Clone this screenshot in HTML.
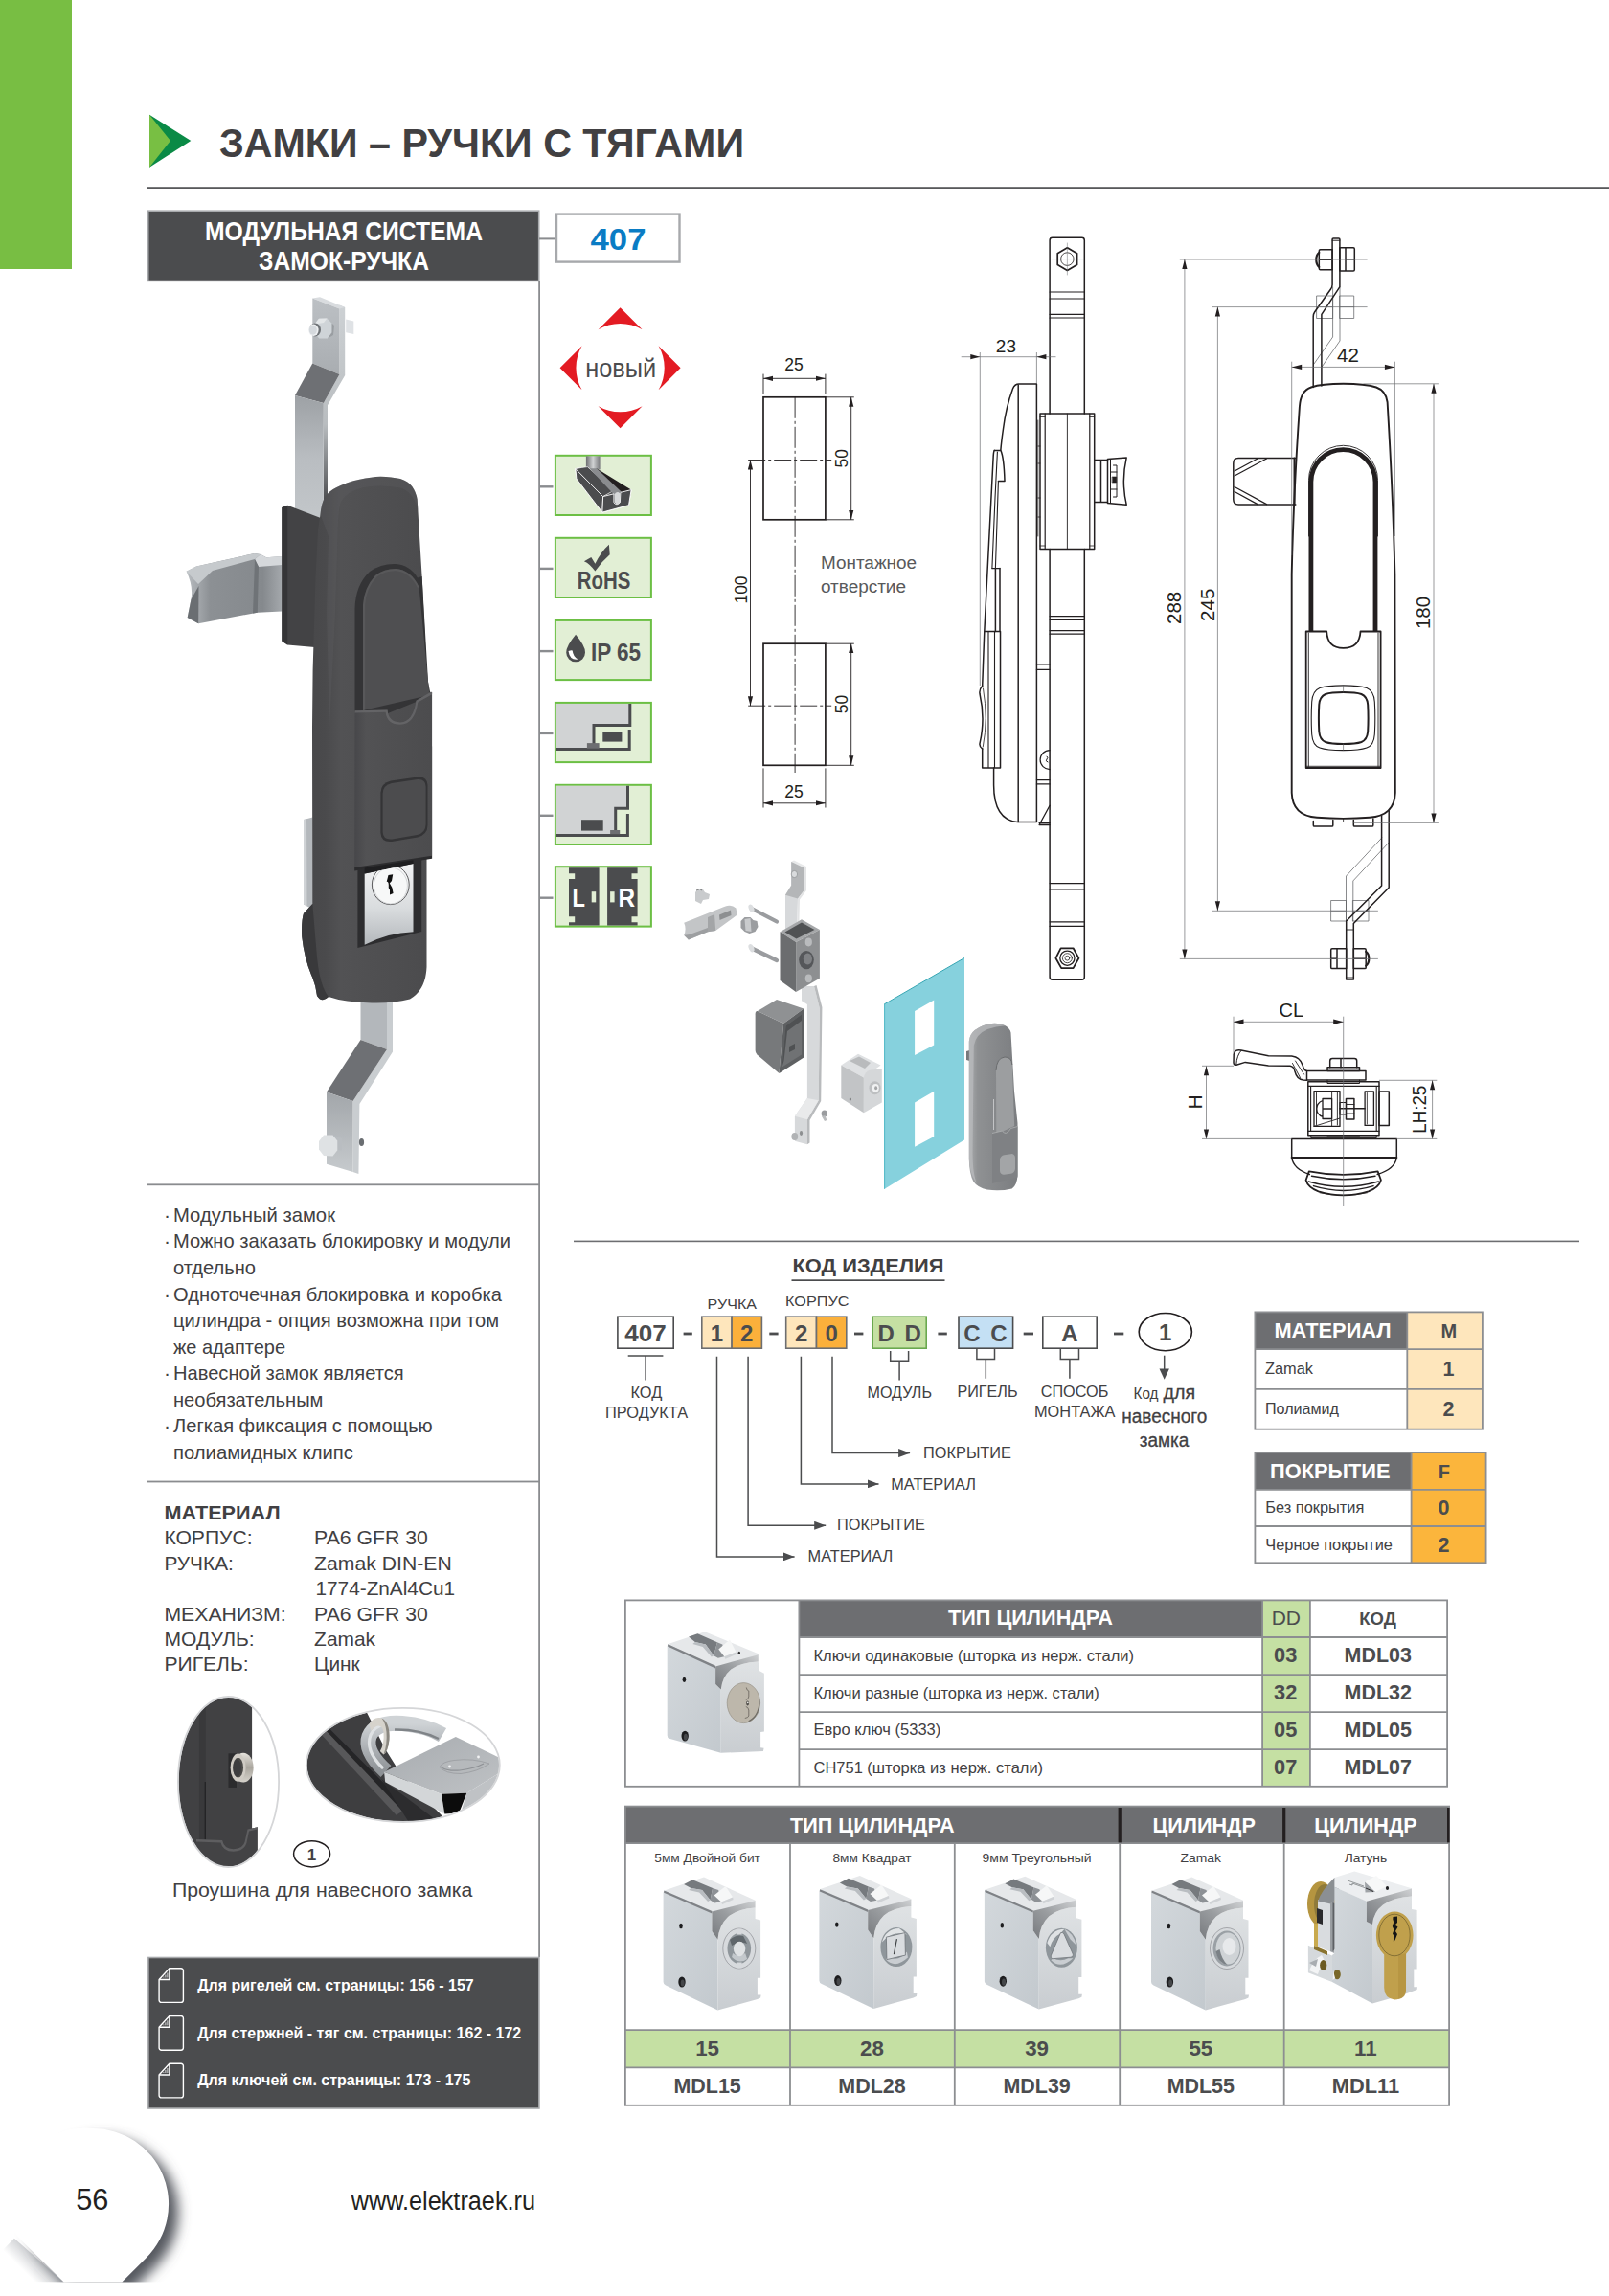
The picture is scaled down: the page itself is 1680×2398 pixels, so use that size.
<!DOCTYPE html>
<html lang="ru">
<head>
<meta charset="utf-8">
<title>ЗАМКИ – РУЧКИ С ТЯГАМИ — 407</title>
<style>
html,body{margin:0;padding:0;background:#fff;}
body{width:1680px;height:2398px;overflow:hidden;font-family:"Liberation Sans",sans-serif;}
svg{display:block;}
text{font-family:"Liberation Sans",sans-serif;}
.b{font-weight:bold;}
</style>
</head>
<body>
<svg width="1680" height="2398" viewBox="0 0 1680 2398">
<defs>
  <linearGradient id="gTri" x1="0" y1="0" x2="1" y2="0">
    <stop offset="0" stop-color="#4fb848"/><stop offset="1" stop-color="#0b7d3e"/>
  </linearGradient>
  <filter id="fShadow" x="-30%" y="-30%" width="170%" height="170%">
    <feGaussianBlur in="SourceAlpha" stdDeviation="6.5"/>
    <feOffset dx="10" dy="9" result="o"/>
    <feComponentTransfer><feFuncA type="linear" slope="0.75"/></feComponentTransfer>
    <feFlood flood-color="#55585f" result="c"/>
    <feComposite in="c" in2="o" operator="in"/>
  </filter>
  <marker id="arr" viewBox="0 0 10 6" refX="10" refY="3" markerWidth="10" markerHeight="6" orient="auto-start-reverse" markerUnits="userSpaceOnUse">
    <path d="M0,0.4 L10,3 L0,5.6 Z" fill="#231f20"/>
  </marker>
  <marker id="arrG" viewBox="0 0 12 9" refX="12" refY="4.5" markerWidth="12" markerHeight="9" orient="auto" markerUnits="userSpaceOnUse">
    <path d="M0,0 L12,4.5 L0,9 Z" fill="#4b4c4e"/>
  </marker>
</defs>

<defs>
  <linearGradient id="mLeft" x1="0" y1="0" x2="1" y2="1">
    <stop offset="0" stop-color="#d3d8dc"/><stop offset="1" stop-color="#c3c9ce"/>
  </linearGradient>
  <linearGradient id="mFront" x1="0" y1="0" x2="0" y2="1">
    <stop offset="0" stop-color="#dfe2e4"/><stop offset="1" stop-color="#c9cdd1"/>
  </linearGradient>
  <linearGradient id="mCham" x1="0" y1="1" x2="1" y2="0">
    <stop offset="0" stop-color="#777a7e"/><stop offset="0.5" stop-color="#9a9da0"/><stop offset="1" stop-color="#cfd1d3"/>
  </linearGradient>
  <linearGradient id="mBrass" x1="0" y1="0" x2="1" y2="0">
    <stop offset="0" stop-color="#b8973f"/><stop offset="0.5" stop-color="#dcc06a"/><stop offset="1" stop-color="#c9a94e"/>
  </linearGradient>
  <!-- lock module body (103 x 140) -->
  <g id="modBody">
    <path d="M1.5,14.4 L42.9,0.5 L96.5,24.7 L96.5,26 L51.3,37 Z" fill="#e6e8ea"/>
    <path d="M0.5,17 Q0.5,14.4 3,15 L51.3,36.5 L51.3,57 L57.3,65.7 L57.3,139.4 L3,113.5 Q0.5,112.3 0.5,110 Z" fill="url(#mLeft)"/>
    <path d="M1.2,14.6 L51.3,36 L51.3,38.4 L1,16.8 Z" fill="#7f8286"/>
    <path d="M57.3,65.7 Q58.5,51 68,42 Q78,33.5 96.5,32.5 L96.5,44 L102,45.5 L102,105.8 L98.8,105.8 L98.8,123.5 L102.5,123.5 L102,126.5 L98.8,128 L57.3,139.4 Z" fill="url(#mFront)"/>
    <path d="M51.3,36.5 L96.5,25.2 L96.5,32.5 Q78,33.5 68,42 Q58.5,51 57.3,65.7 L51.3,57 Z" fill="url(#mCham)"/>
    <!-- top clip -->
    <path d="M22,8 L31,3.2 L52,12 L49.5,24.5 L41,14 L29.5,12 Z" fill="#767a7e"/>
    <path d="M29.5,12 L41,14 L49.5,24.5 L47,26 L38,16.5 L27,14 Z" fill="#b9bdc1"/>
    <path d="M49.5,24.5 L52,12 L58,14 L62,26 L54,27.5 Z" fill="#8d9195"/>
    <path d="M53.5,19.5 L65.5,10 L73,21.5 L61,26.5 Z" fill="#f6f7f7"/>
    <path d="M61,26.5 L73,21.5 L73.5,24 L62,29 Z" fill="#cfd2d5"/>
    <!-- holes -->
    <ellipse cx="18.9" cy="51.5" rx="1.8" ry="2.7" fill="#1d1d1f"/>
    <ellipse cx="19.9" cy="110" rx="3.7" ry="5.5" fill="#1d1d1f"/>
    <ellipse cx="20.6" cy="111" rx="2" ry="3.6" fill="#45474a"/>
  </g>
  <g id="modCyl15">
    <ellipse cx="79.7" cy="75" rx="17" ry="21" fill="#d7dadd" stroke="#7f8286" stroke-width="0.6"/>
    <ellipse cx="79.7" cy="75" rx="12.3" ry="16" fill="#8f969b"/>
    <path d="M70,66 Q76,60 84,62 L88,70 Q80,66 72,72 Z" fill="#5f666b"/>
    <path d="M72,84 Q80,92 88,86 L86,80 Q80,86 73,80 Z" fill="#c3c8cc"/>
    <ellipse cx="80" cy="75.5" rx="6.2" ry="7.8" fill="#dfe2e4"/>
    <rect x="77" y="54.5" width="5.5" height="6" fill="#d7dadd"/>
    <rect x="77" y="89.5" width="5.5" height="6" fill="#d7dadd"/>
  </g>
  <g id="modCyl28">
    <ellipse cx="81" cy="75" rx="16.5" ry="20.5" fill="#8f969b"/>
    <path d="M66,70 Q70,56 84,55.5 L92,62 Q80,58 70,66 Z" fill="#e1e4e6"/>
    <path d="M70,88 Q80,98 93,86 L92,80 Q82,92 72,84 Z" fill="#c9cdd1"/>
    <path d="M70.5,64.5 L90,60 L90.5,83.5 L71,88 Z" fill="#d9dcdf" stroke="#6f7478" stroke-width="0.8"/>
    <path d="M81.5,66.5 L78.5,82.5" stroke="#3d4043" stroke-width="1.2"/>
  </g>
  <g id="modCyl39">
    <ellipse cx="81" cy="75" rx="16.5" ry="20.5" fill="#8f969b"/>
    <path d="M66,70 Q70,56 84,55.5 L80,60 Q72,64 69,74 Z" fill="#dfe2e4"/>
    <path d="M84,55.5 Q94,60 96,72 L90,66 Z" fill="#c9cdd1"/>
    <path d="M70,88 Q80,98 93,86 L88,86 Q80,90 72,86 Z" fill="#c9cdd1"/>
    <path d="M80,59.5 Q82,58.5 83.5,60.5 L93,82 Q93.5,85 90.5,85 L71.5,86.5 Q69,86 70,83 Z" fill="#d9dcdf" stroke="#6f7478" stroke-width="0.8"/>
  </g>
  <g id="modCyl55">
    <ellipse cx="79.5" cy="75" rx="17.5" ry="21.5" fill="#d7dadd" stroke="#7f8286" stroke-width="0.6"/>
    <ellipse cx="79.5" cy="75" rx="14.5" ry="18.5" fill="#9aa0a5"/>
    <ellipse cx="80.5" cy="75" rx="12.5" ry="16.5" fill="#cfd3d6"/>
    <ellipse cx="82" cy="73" rx="7" ry="9" fill="#e7e9eb"/>
    <path d="M68,78 Q70,90 80,92 Q74,86 72,76 Z" fill="#7b8186"/>
  </g>
  <g id="modCylKey">
    <ellipse cx="79.5" cy="72" rx="17" ry="21.5" fill="#c9c3b7" stroke="#8a8478" stroke-width="0.6"/>
    <ellipse cx="78.5" cy="72" rx="15.5" ry="20" fill="#d8d3c8"/>
    <path d="M85,56 L85,62 L82,64 L85,66 L85,88 L83,88 L83,80 L80,80 L80,78 L83,76 L83,68 L80,66 L83,62 L83,56 Z" fill="#55524c"/>
    <circle cx="84" cy="71" r="1.5" fill="#f2f0ea"/>
  </g>
</defs>

<defs>
  <g id="modBodyB">
    <path d="M2,13 L40.1,0.3 L96,23.3 L96,25 L51.3,37 Z" fill="#e6e8ea"/>
    <path d="M0.9,15.5 Q0.9,13 3.2,13.8 L51.3,36.4 L51.3,55 L56.9,60.6 L56.9,126.8 L3,111.8 Q0.9,111 0.9,108.5 Z" fill="url(#mLeft)"/>
    <path d="M1.6,13.3 L51.3,35.8 L51.3,38.4 L1.2,15.6 Z" fill="#7f8286"/>
    <path d="M56.9,60.6 Q58.5,47 67.5,39.5 Q77,32.5 96,31.6 L97,41 L102.1,43.8 L102.1,104.4 L98.3,104.9 L98.3,121.2 L101.8,121.7 L101.1,124.9 L56.9,126.8 Z" fill="url(#mFront)"/>
    <path d="M51.3,36.4 L96,24.2 L96,31.6 Q77,32.5 67.5,39.5 Q58.5,47 56.9,60.6 L51.3,55 Z" fill="url(#mCham)"/>
    <path d="M23.3,5.6 L32.6,2.3 L53.1,11.2 L49.4,25.2 L41,13.5 L30,11 Z" fill="#767a7e"/>
    <path d="M30,11 L41,13.5 L49.4,25.2 L47,26.5 L38,16 L27.5,13 Z" fill="#b9bdc1"/>
    <path d="M49.4,25.2 L53.1,11.2 L58.5,13.5 L61.5,26 L54,27.8 Z" fill="#8d9195"/>
    <path d="M54.5,18.5 L66.2,8.4 L72.7,21.4 L60.5,26.3 Z" fill="#f6f7f7"/>
    <path d="M60.5,26.3 L72.7,21.4 L73.2,23.8 L61.5,28.8 Z" fill="#cfd2d5"/>
    <ellipse cx="76" cy="22.3" rx="1.2" ry="1.5" fill="#2a2a2c"/>
    <ellipse cx="18.6" cy="50.3" rx="1.8" ry="2.6" fill="#1d1d1f"/>
    <ellipse cx="19.4" cy="109.1" rx="3.7" ry="5.4" fill="#1d1d1f"/>
    <ellipse cx="20.1" cy="110.2" rx="2" ry="3.5" fill="#45474a"/>
  </g>
  <g id="modCylKeyB">
    <ellipse cx="80.6" cy="74.6" rx="17.2" ry="21" fill="#bdb7ab" stroke="#8f897d" stroke-width="0.6"/>
    <path d="M97.2,70 A17.2,21 0 0 1 85,94.8 L86,93 A15.8,19.6 0 0 0 96,70 Z" fill="#6d6a64"/>
    <path d="M83.5,58.5 Q83.8,61.5 86,62 L86,68 Q85.5,71 83,71.5 M83,78.5 Q85.5,79 86,82 L86,88 Q85.5,90 82,90.5" fill="none" stroke="#6f6b63" stroke-width="0.9"/>
    <ellipse cx="84.8" cy="75" rx="1.4" ry="2.4" fill="#4a4844"/>
    <circle cx="85" cy="74.4" r="0.8" fill="#f6f4ef"/>
  </g>
</defs>

<!-- page background -->
<rect x="0" y="0" width="1680" height="2398" fill="#ffffff"/>
<!-- green side tab -->
<rect x="0" y="0" width="75" height="281" fill="#78be43"/>
<!-- title -->
<path d="M156,119.8 L199.3,147.1 L156,174.8 Z" fill="#0a8a46"/>
<path d="M156,119.8 L178,147.1 L156,174.8 Z" fill="#78bf43"/>
<text x="229" y="163.5" font-size="42" class="b" fill="#414042" textLength="548" lengthAdjust="spacingAndGlyphs">ЗАМКИ – РУЧКИ С ТЯГАМИ</text>
<rect x="154" y="195.2" width="1526" height="1.8" fill="#58595b"/>
<!-- section title box -->
<rect x="154.7" y="220.2" width="408" height="73.2" fill="#4b4c4e" stroke="#a7a9ac" stroke-width="1.6"/>
<text x="359" y="250.6" font-size="28.5" class="b" fill="#fff" text-anchor="middle" textLength="290" lengthAdjust="spacingAndGlyphs">МОДУЛЬНАЯ СИСТЕМА</text>
<text x="359" y="281.8" font-size="28.5" class="b" fill="#fff" text-anchor="middle" textLength="178" lengthAdjust="spacingAndGlyphs">ЗАМОК-РУЧКА</text>
<!-- left column frame lines -->
<rect x="562.2" y="293" width="1.8" height="1751" fill="#8a8c8f"/>
<rect x="154" y="1236.4" width="409" height="1.8" fill="#8a8c8f"/>
<rect x="154" y="1546.6" width="409" height="1.8" fill="#8a8c8f"/>
<!-- 407 box -->
<rect x="563" y="248.4" width="18" height="2" fill="#8a8c8f"/>
<rect x="581" y="223.6" width="128.5" height="50" fill="#fff" stroke="#a7a9ac" stroke-width="2.4"/>
<text x="645.5" y="261" font-size="32" class="b" fill="#0a7cc4" text-anchor="middle" textLength="58" lengthAdjust="spacingAndGlyphs">407</text>
<!-- connector ticks to icons -->
<g fill="#8a8c8f">
<rect x="563" y="507.1" width="14.5" height="2.4"/>
<rect x="563" y="592.7" width="14.5" height="2.4"/>
<rect x="563" y="678.9" width="14.5" height="2.4"/>
<rect x="563" y="764.7" width="14.5" height="2.4"/>
<rect x="563" y="850.6" width="14.5" height="2.4"/>
<rect x="563" y="936.5" width="14.5" height="2.4"/>
</g>
<!-- right separator line above code -->
<rect x="599" y="1295.6" width="1050" height="1.6" fill="#6d6e71"/>

<!-- feature bullets -->
<text x="171.0" y="1276.1" font-size="21" fill="#414042">·</text>
<text x="181.0" y="1276.1" font-size="21" fill="#414042" textLength="169.0" lengthAdjust="spacingAndGlyphs">Модульный замок</text>
<text x="171.0" y="1303.4" font-size="21" fill="#414042">·</text>
<text x="181.0" y="1303.4" font-size="21" fill="#414042" textLength="352.0" lengthAdjust="spacingAndGlyphs">Можно заказать блокировку и модули</text>
<text x="181.0" y="1331.3" font-size="21" fill="#414042" textLength="86.0" lengthAdjust="spacingAndGlyphs">отдельно</text>
<text x="171.0" y="1358.6" font-size="21" fill="#414042">·</text>
<text x="181.0" y="1358.6" font-size="21" fill="#414042" textLength="343.0" lengthAdjust="spacingAndGlyphs">Одноточечная блокировка и коробка</text>
<text x="181.0" y="1386.3" font-size="21" fill="#414042" textLength="340.0" lengthAdjust="spacingAndGlyphs">цилиндра - опция возможна при том</text>
<text x="181.0" y="1413.6" font-size="21" fill="#414042" textLength="117.0" lengthAdjust="spacingAndGlyphs">же адаптере</text>
<text x="171.0" y="1441.0" font-size="21" fill="#414042">·</text>
<text x="181.0" y="1441.0" font-size="21" fill="#414042" textLength="240.6" lengthAdjust="spacingAndGlyphs">Навесной замок является</text>
<text x="181.0" y="1468.8" font-size="21" fill="#414042" textLength="156.4" lengthAdjust="spacingAndGlyphs">необязательным</text>
<text x="171.0" y="1496.2" font-size="21" fill="#414042">·</text>
<text x="181.0" y="1496.2" font-size="21" fill="#414042" textLength="270.7" lengthAdjust="spacingAndGlyphs">Легкая фиксация с помощью</text>
<text x="181.0" y="1523.5" font-size="21" fill="#414042" textLength="187.9" lengthAdjust="spacingAndGlyphs">полиамидных клипс</text>
<!-- material list -->
<text x="171.4" y="1587.0" font-size="21" class="b" fill="#414042" textLength="121.2" lengthAdjust="spacingAndGlyphs">МАТЕРИАЛ</text>
<text x="171.4" y="1613.3" font-size="21" fill="#414042" textLength="92.2" lengthAdjust="spacingAndGlyphs">КОРПУС:</text>
<text x="328.1" y="1613.3" font-size="21" fill="#414042" textLength="118.7" lengthAdjust="spacingAndGlyphs">PA6 GFR 30</text>
<text x="171.4" y="1639.8" font-size="21" fill="#414042" textLength="72.5" lengthAdjust="spacingAndGlyphs">РУЧКА:</text>
<text x="328.1" y="1639.8" font-size="21" fill="#414042" textLength="143.6" lengthAdjust="spacingAndGlyphs">Zamak DIN-EN</text>
<text x="329.5" y="1666.3" font-size="21" fill="#414042" textLength="145.5" lengthAdjust="spacingAndGlyphs">1774-ZnAl4Cu1</text>
<text x="171.4" y="1692.6" font-size="21" fill="#414042" textLength="127.2" lengthAdjust="spacingAndGlyphs">МЕХАНИЗМ:</text>
<text x="328.1" y="1692.6" font-size="21" fill="#414042" textLength="118.7" lengthAdjust="spacingAndGlyphs">PA6 GFR 30</text>
<text x="171.4" y="1719.1" font-size="21" fill="#414042" textLength="94.3" lengthAdjust="spacingAndGlyphs">МОДУЛЬ:</text>
<text x="328.1" y="1719.1" font-size="21" fill="#414042" textLength="64.0" lengthAdjust="spacingAndGlyphs">Zamak</text>
<text x="171.4" y="1745.1" font-size="21" fill="#414042" textLength="88.3" lengthAdjust="spacingAndGlyphs">РИГЕЛЬ:</text>
<text x="328.1" y="1745.1" font-size="21" fill="#414042" textLength="47.6" lengthAdjust="spacingAndGlyphs">Цинк</text>
<!-- caption -->
<text x="179.9" y="1981.2" font-size="20.5" fill="#414042" textLength="313.5" lengthAdjust="spacingAndGlyphs">Проушина для навесного замка</text>
<ellipse cx="325.6" cy="1936.3" rx="19" ry="13.6" fill="#fff" stroke="#231f20" stroke-width="1.5"/>
<text x="325.6" y="1942.6" font-size="17" class="b" fill="#414042" text-anchor="middle">1</text>
<!-- reference box -->
<rect x="154.9" y="2044.5" width="408" height="157.5" fill="#4b4c4e" stroke="#a7a9ac" stroke-width="1.6"/>
<g transform="translate(165.4,2055)" fill="none" stroke="#fff" stroke-width="1.4" stroke-linejoin="round"><path d="M11.5,0.7 H23.6 a2.4,2.4 0 0 1 2.4,2.4 V34 a2.4,2.4 0 0 1 -2.4,2.4 H3.1 a2.4,2.4 0 0 1 -2.4,-2.4 V12.5 Z"/><path d="M11.5,0.7 V12.5 H0.7"/><path d="M9.5,5.5 V10.5 M7.5,7.5 V10.5 M5.5,9.5 V10.5" stroke-width="0.8"/></g>
<text x="206.2" y="2078.8" font-size="17" class="b" fill="#fff" textLength="288.5" lengthAdjust="spacingAndGlyphs">Для ригелей см. страницы: 156 - 157</text>
<g transform="translate(165.4,2104.8)" fill="none" stroke="#fff" stroke-width="1.4" stroke-linejoin="round"><path d="M11.5,0.7 H23.6 a2.4,2.4 0 0 1 2.4,2.4 V34 a2.4,2.4 0 0 1 -2.4,2.4 H3.1 a2.4,2.4 0 0 1 -2.4,-2.4 V12.5 Z"/><path d="M11.5,0.7 V12.5 H0.7"/><path d="M9.5,5.5 V10.5 M7.5,7.5 V10.5 M5.5,9.5 V10.5" stroke-width="0.8"/></g>
<text x="206.2" y="2128.8" font-size="17" class="b" fill="#fff" textLength="338.0" lengthAdjust="spacingAndGlyphs">Для стержней - тяг см. страницы: 162 - 172</text>
<g transform="translate(165.4,2154.5)" fill="none" stroke="#fff" stroke-width="1.4" stroke-linejoin="round"><path d="M11.5,0.7 H23.6 a2.4,2.4 0 0 1 2.4,2.4 V34 a2.4,2.4 0 0 1 -2.4,2.4 H3.1 a2.4,2.4 0 0 1 -2.4,-2.4 V12.5 Z"/><path d="M11.5,0.7 V12.5 H0.7"/><path d="M9.5,5.5 V10.5 M7.5,7.5 V10.5 M5.5,9.5 V10.5" stroke-width="0.8"/></g>
<text x="206.2" y="2178.0" font-size="17" class="b" fill="#fff" textLength="285.2" lengthAdjust="spacingAndGlyphs">Для ключей см. страницы: 173 - 175</text>
<!-- footer -->
<defs><linearGradient id="gTearL" gradientUnits="userSpaceOnUse" x1="52" y1="2371" x2="38" y2="2385"><stop offset="0" stop-color="#cdcfd2"/><stop offset="1" stop-color="#ffffff"/></linearGradient></defs>
<path d="M14.9,2337.8 L66.7,2383.5 H36 L2,2351 Z" fill="url(#gTearL)"/>
<g filter="url(#fShadow)"><path d="M97,2223 a79,79 0 0 1 55.9,134.9 L127.3,2383.5 H66.7 L41.1,2357.9 a79,79 0 0 1 55.9,-134.9 Z" fill="#000"/></g>
<path d="M97,2223 a79,79 0 0 1 55.9,134.9 L127.3,2383.5 H66.7 L10,2328 V2300 a79,79 0 0 1 87,-77 Z" fill="#fff"/>
<rect x="0" y="2383.5" width="300" height="15" fill="#fff"/>
<text x="79.2" y="2308.0" font-size="32" fill="#231f20" textLength="34.2" lengthAdjust="spacingAndGlyphs">56</text>
<text x="366.7" y="2308.3" font-size="27" fill="#231f20" textLength="192.3" lengthAdjust="spacingAndGlyphs">www.elektraek.ru</text>

<!-- product code -->
<text x="827.5" y="1328.7" font-size="20.5" class="b" fill="#414042" textLength="158.0" lengthAdjust="spacingAndGlyphs">КОД ИЗДЕЛИЯ</text>
<rect x="826.5" y="1336.3" width="160" height="1.7" fill="#4b4c4e"/>
<text x="738.6" y="1366.5" font-size="13.8" fill="#414042" textLength="51.4" lengthAdjust="spacingAndGlyphs">РУЧКА</text>
<text x="820.1" y="1364.4" font-size="13.8" fill="#414042" textLength="66.3" lengthAdjust="spacingAndGlyphs">КОРПУС</text>
<rect x="644.9" y="1375.2" width="58.3" height="33" fill="#fff" stroke="#4b4c4e" stroke-width="1.6"/>
<text x="674.1" y="1400.8" font-size="24" class="b" fill="#4b4c4e" text-anchor="middle" textLength="43.5" lengthAdjust="spacingAndGlyphs">407</text>
<rect x="713.6" y="1391.6" width="9.2" height="2.8" fill="#4b4c4e"/>
<rect x="732.8" y="1375.2" width="31.3" height="33" fill="#fee6bc" stroke="#6d6e71" stroke-width="1.6"/>
<rect x="764.1" y="1375.2" width="31.3" height="33" fill="#fbb03b" stroke="#6d6e71" stroke-width="1.6"/>
<text x="748.4" y="1400.8" font-size="24" class="b" fill="#4b4c4e" text-anchor="middle">1</text>
<text x="779.8" y="1400.8" font-size="24" class="b" fill="#4b4c4e" text-anchor="middle">2</text>
<rect x="803.3" y="1391.6" width="9.3" height="2.8" fill="#4b4c4e"/>
<rect x="820.7" y="1375.2" width="31.8" height="33" fill="#fee6bc" stroke="#6d6e71" stroke-width="1.6"/>
<rect x="852.5" y="1375.2" width="31.3" height="33" fill="#fbb03b" stroke="#6d6e71" stroke-width="1.6"/>
<text x="836.6" y="1400.8" font-size="24" class="b" fill="#4b4c4e" text-anchor="middle">2</text>
<text x="868.2" y="1400.8" font-size="24" class="b" fill="#4b4c4e" text-anchor="middle">0</text>
<rect x="892.0" y="1391.6" width="9.4" height="2.8" fill="#4b4c4e"/>
<rect x="911.2" y="1375.2" width="56.0" height="33" fill="#c5e0a3" stroke="#6aa84f" stroke-width="1.6"/>
<text x="925.2" y="1400.8" font-size="24" class="b" fill="#4b4c4e" text-anchor="middle">D</text>
<text x="953.2" y="1400.8" font-size="24" class="b" fill="#4b4c4e" text-anchor="middle">D</text>
<rect x="979.4" y="1391.6" width="9.4" height="2.8" fill="#4b4c4e"/>
<rect x="1001.0" y="1375.2" width="56.6" height="33" fill="#c4e0f4" stroke="#4b4c4e" stroke-width="1.6"/>
<text x="1014.8" y="1400.8" font-size="24" class="b" fill="#4b4c4e" text-anchor="middle">C</text>
<text x="1043.0" y="1400.8" font-size="24" class="b" fill="#4b4c4e" text-anchor="middle">C</text>
<rect x="1068.7" y="1391.6" width="10.3" height="2.8" fill="#4b4c4e"/>
<rect x="1088.8" y="1375.2" width="56.4" height="33" fill="#fff" stroke="#4b4c4e" stroke-width="1.6"/>
<text x="1117.0" y="1400.8" font-size="24" class="b" fill="#4b4c4e" text-anchor="middle">A</text>
<rect x="1163.0" y="1391.6" width="10.3" height="2.8" fill="#4b4c4e"/>
<ellipse cx="1216.8" cy="1391.1" rx="27.6" ry="19.6" fill="#fff" stroke="#231f20" stroke-width="1.6"/>
<text x="1216.8" y="1400.0" font-size="24" class="b" fill="#4b4c4e" text-anchor="middle">1</text>
<g fill="none" stroke="#4b4c4e" stroke-width="1.5">
<path d="M655.7,1416.1 H692.4 M674.1,1416.1 V1441.6"/>
<path d="M748.5,1416.7 V1625.9 H829.6" marker-end="url(#arrG)"/>
<path d="M781.1,1416.7 V1593.3 H862.2" marker-end="url(#arrG)"/>
<path d="M836.4,1416.7 V1549.9 H917.5" marker-end="url(#arrG)"/>
<path d="M869,1416.7 V1517.6 H950.1" marker-end="url(#arrG)"/>
<path d="M929.7,1411 V1421.2 H948.6 V1411 M939.1,1421.2 V1441.6"/>
<path d="M1019.9,1409 V1419.6 H1038.5 V1409 M1029.3,1419.6 V1439.7"/>
<path d="M1107.3,1409 V1419.6 H1126.5 V1409 M1116.9,1419.6 V1439.7"/>
<path d="M1215.7,1415.7 V1431"/>
</g>
<path d="M1210.5,1429.5 H1220.9 L1215.7,1440.7 Z" fill="#4b4c4e"/>
<text x="674.9" y="1460.2" font-size="16.4" fill="#414042" text-anchor="middle">КОД</text>
<text x="632.0" y="1480.6" font-size="16.4" fill="#414042" textLength="86.2" lengthAdjust="spacingAndGlyphs">ПРОДУКТА</text>
<text x="905.5" y="1460.2" font-size="16.4" fill="#414042" textLength="67.5" lengthAdjust="spacingAndGlyphs">МОДУЛЬ</text>
<text x="999.4" y="1459.2" font-size="16.4" fill="#414042" textLength="63.1" lengthAdjust="spacingAndGlyphs">РИГЕЛЬ</text>
<text x="1086.7" y="1459.2" font-size="16.4" fill="#414042" textLength="70.6" lengthAdjust="spacingAndGlyphs">СПОСОБ</text>
<text x="1080.0" y="1479.7" font-size="16.4" fill="#414042" textLength="84.5" lengthAdjust="spacingAndGlyphs">МОНТАЖА</text>
<text x="843.6" y="1631.0" font-size="16.4" fill="#414042" textLength="88.7" lengthAdjust="spacingAndGlyphs">МАТЕРИАЛ</text>
<text x="874.1" y="1598.4" font-size="16.4" fill="#414042" textLength="91.8" lengthAdjust="spacingAndGlyphs">ПОКРЫТИЕ</text>
<text x="930.2" y="1555.8" font-size="16.4" fill="#414042" textLength="88.7" lengthAdjust="spacingAndGlyphs">МАТЕРИАЛ</text>
<text x="964.1" y="1523.2" font-size="16.4" fill="#414042" textLength="91.8" lengthAdjust="spacingAndGlyphs">ПОКРЫТИЕ</text>
<text x="1183.5" y="1460.6" font-size="16.4" fill="#414042" textLength="26.0" lengthAdjust="spacingAndGlyphs">Код</text>
<text x="1214.5" y="1460.6" font-size="20" fill="#414042" textLength="33.6" lengthAdjust="spacingAndGlyphs" stroke="#414042" stroke-width="0.3">для</text>
<text x="1171.2" y="1486.3" font-size="20" fill="#414042" textLength="89.2" lengthAdjust="spacingAndGlyphs" stroke="#414042" stroke-width="0.3">навесного</text>
<text x="1189.7" y="1510.9" font-size="20" fill="#414042" textLength="51.7" lengthAdjust="spacingAndGlyphs" stroke="#414042" stroke-width="0.3">замка</text>
<!-- material table -->
<rect x="1310.4" y="1370.4" width="237.5" height="122.3" fill="#fff"/>
<rect x="1310.4" y="1370.4" width="158.9" height="38.8" fill="#6d6e71"/>
<rect x="1469.3" y="1370.4" width="78.6" height="122.3" fill="#fee6bc"/>
<g fill="none" stroke="#8c8e91" stroke-width="1.8"><rect x="1310.4" y="1370.4" width="237.5" height="122.3"/><path d="M1469.3,1370.4 V1492.7 M1310.4,1409.2 H1547.9 M1310.4,1450.9 H1547.9"/></g>
<text x="1330.4" y="1397.3" font-size="21.6" class="b" fill="#fff" textLength="122.3" lengthAdjust="spacingAndGlyphs">МАТЕРИАЛ</text>
<text x="1512.8" y="1397.0" font-size="20" class="b" fill="#4b4c4e" text-anchor="middle">M</text>
<text x="1321.0" y="1435.3" font-size="16.3" fill="#414042" textLength="50.0" lengthAdjust="spacingAndGlyphs">Zamak</text>
<text x="1512.4" y="1437.2" font-size="21.5" class="b" fill="#4b4c4e" text-anchor="middle">1</text>
<text x="1321.0" y="1476.7" font-size="16.3" fill="#414042" textLength="76.9" lengthAdjust="spacingAndGlyphs">Полиамид</text>
<text x="1512.4" y="1479.0" font-size="21.5" class="b" fill="#4b4c4e" text-anchor="middle">2</text>
<!-- coating table -->
<rect x="1310.4" y="1517.1" width="241.2" height="115.2" fill="#fff"/>
<rect x="1310.4" y="1517.1" width="163.2" height="38.8" fill="#6d6e71"/>
<rect x="1473.6" y="1517.1" width="78" height="115.2" fill="#fbb53c"/>
<g fill="none" stroke="#8c8e91" stroke-width="1.8"><rect x="1310.4" y="1517.1" width="241.2" height="115.2"/><path d="M1473.6,1517.1 V1632.3 M1310.4,1555.9 H1551.6 M1310.4,1594 H1551.6"/></g>
<text x="1326.0" y="1543.7" font-size="21.6" class="b" fill="#fff" textLength="125.5" lengthAdjust="spacingAndGlyphs">ПОКРЫТИЕ</text>
<text x="1507.9" y="1543.5" font-size="20" class="b" fill="#4b4c4e" text-anchor="middle">F</text>
<text x="1321.3" y="1580.0" font-size="16.3" fill="#414042" textLength="103.1" lengthAdjust="spacingAndGlyphs">Без покрытия</text>
<text x="1507.5" y="1582.0" font-size="21.5" class="b" fill="#4b4c4e" text-anchor="middle">0</text>
<text x="1321.3" y="1618.9" font-size="16.3" fill="#414042" textLength="132.6" lengthAdjust="spacingAndGlyphs">Черное покрытие</text>
<text x="1507.5" y="1620.6" font-size="21.5" class="b" fill="#4b4c4e" text-anchor="middle">2</text>

<!-- cylinder type table 1 -->
<rect x="652.9" y="1671.4" width="858.2" height="194.4" fill="#fff"/>
<rect x="834.4" y="1671.4" width="483.7" height="38.6" fill="#6d6e71"/>
<rect x="1318.1" y="1671.4" width="49.8" height="194.4" fill="#c5e0a3"/>
<g fill="none" stroke="#8c8e91" stroke-width="1.8"><rect x="652.9" y="1671.4" width="858.2" height="194.4"/><path d="M834.4,1671.4 V1865.8 M1318.1,1671.4 V1865.8 M1367.9,1671.4 V1865.8 M834.4,1710 H1511.1 M834.4,1749.2 H1511.1 M834.4,1788.1 H1511.1 M834.4,1827.2 H1511.1"/></g>
<text x="1076.0" y="1697.2" font-size="21.5" class="b" fill="#fff" text-anchor="middle" textLength="172.0" lengthAdjust="spacingAndGlyphs">ТИП ЦИЛИНДРА</text>
<text x="1342.8" y="1697.2" font-size="21" fill="#4b4c4e" text-anchor="middle" textLength="30.3" lengthAdjust="spacingAndGlyphs">DD</text>
<text x="1438.6" y="1697.2" font-size="18.7" class="b" fill="#4b4c4e" text-anchor="middle" textLength="38.6" lengthAdjust="spacingAndGlyphs">КОД</text>
<text x="849.5" y="1734.9" font-size="16.5" fill="#414042" textLength="334.5" lengthAdjust="spacingAndGlyphs">Ключи одинаковые (шторка из нерж. стали)</text>
<text x="1342.2" y="1735.8" font-size="21.8" class="b" fill="#4b4c4e" text-anchor="middle">03</text>
<text x="1438.7" y="1735.8" font-size="21.8" class="b" fill="#4b4c4e" text-anchor="middle" textLength="70.3" lengthAdjust="spacingAndGlyphs">MDL03</text>
<text x="849.5" y="1773.5" font-size="16.5" fill="#414042" textLength="298.3" lengthAdjust="spacingAndGlyphs">Ключи разные (шторка из нерж. стали)</text>
<text x="1342.2" y="1774.6" font-size="21.8" class="b" fill="#4b4c4e" text-anchor="middle">32</text>
<text x="1438.7" y="1774.6" font-size="21.8" class="b" fill="#4b4c4e" text-anchor="middle" textLength="70.3" lengthAdjust="spacingAndGlyphs">MDL32</text>
<text x="849.5" y="1812.4" font-size="16.5" fill="#414042" textLength="132.8" lengthAdjust="spacingAndGlyphs">Евро ключ (5333)</text>
<text x="1342.2" y="1813.5" font-size="21.8" class="b" fill="#4b4c4e" text-anchor="middle">05</text>
<text x="1438.7" y="1813.5" font-size="21.8" class="b" fill="#4b4c4e" text-anchor="middle" textLength="70.3" lengthAdjust="spacingAndGlyphs">MDL05</text>
<text x="849.5" y="1851.5" font-size="16.5" fill="#414042" textLength="239.6" lengthAdjust="spacingAndGlyphs">CH751 (шторка из нерж. стали)</text>
<text x="1342.2" y="1852.6" font-size="21.8" class="b" fill="#4b4c4e" text-anchor="middle">07</text>
<text x="1438.7" y="1852.6" font-size="21.8" class="b" fill="#4b4c4e" text-anchor="middle" textLength="70.3" lengthAdjust="spacingAndGlyphs">MDL07</text>
<!-- cylinder type table 2 -->
<rect x="652.9" y="1886.6" width="860.2" height="312.2" fill="#fff"/>
<rect x="652.9" y="1886.6" width="860.2" height="38.6" fill="#6d6e71"/>
<rect x="652.9" y="2120.1" width="860.2" height="39.2" fill="#c5e0a3"/>
<g fill="none" stroke="#8c8e91" stroke-width="1.8"><rect x="652.9" y="1886.6" width="860.2" height="312.2"/><path d="M825,1925.2 V2198.8 M996.8,1925.2 V2198.8 M1169.2,1925.2 V2198.8 M1340.7,1925.2 V2198.8 M652.9,1925.2 H1513.1 M652.9,2120.1 H1513.1 M652.9,2159.3 H1513.1"/></g>
<g fill="#231f20"><rect x="1167.6" y="1888" width="3.2" height="36.4"/><rect x="1339.1" y="1888" width="3.2" height="36.4"/><rect x="1511" y="1888" width="2.6" height="36.4"/></g>
<text x="910.8" y="1913.5" font-size="22" class="b" fill="#fff" text-anchor="middle" textLength="171.5" lengthAdjust="spacingAndGlyphs">ТИП ЦИЛИНДРА</text>
<text x="1257.2" y="1913.5" font-size="22" class="b" fill="#fff" text-anchor="middle" textLength="107.5" lengthAdjust="spacingAndGlyphs">ЦИЛИНДР</text>
<text x="1426.0" y="1913.5" font-size="22" class="b" fill="#fff" text-anchor="middle" textLength="107.5" lengthAdjust="spacingAndGlyphs">ЦИЛИНДР</text>
<text x="738.6" y="1945.2" font-size="13.2" fill="#414042" text-anchor="middle" textLength="110.6" lengthAdjust="spacingAndGlyphs">5мм Двойной бит</text>
<text x="738.6" y="2146.7" font-size="22.3" class="b" fill="#4b4c4e" text-anchor="middle">15</text>
<text x="738.6" y="2185.9" font-size="22" class="b" fill="#4b4c4e" text-anchor="middle" textLength="70.3" lengthAdjust="spacingAndGlyphs">MDL15</text>
<text x="910.5" y="1945.2" font-size="13.2" fill="#414042" text-anchor="middle" textLength="82.0" lengthAdjust="spacingAndGlyphs">8мм Квадрат</text>
<text x="910.5" y="2146.7" font-size="22.3" class="b" fill="#4b4c4e" text-anchor="middle">28</text>
<text x="910.5" y="2185.9" font-size="22" class="b" fill="#4b4c4e" text-anchor="middle" textLength="70.3" lengthAdjust="spacingAndGlyphs">MDL28</text>
<text x="1082.6" y="1945.2" font-size="13.2" fill="#414042" text-anchor="middle" textLength="114.0" lengthAdjust="spacingAndGlyphs">9мм Треугольный</text>
<text x="1082.6" y="2146.7" font-size="22.3" class="b" fill="#4b4c4e" text-anchor="middle">39</text>
<text x="1082.6" y="2185.9" font-size="22" class="b" fill="#4b4c4e" text-anchor="middle" textLength="70.3" lengthAdjust="spacingAndGlyphs">MDL39</text>
<text x="1253.8" y="1945.2" font-size="13.2" fill="#414042" text-anchor="middle" textLength="42.5" lengthAdjust="spacingAndGlyphs">Zamak</text>
<text x="1253.8" y="2146.7" font-size="22.3" class="b" fill="#4b4c4e" text-anchor="middle">55</text>
<text x="1253.8" y="2185.9" font-size="22" class="b" fill="#4b4c4e" text-anchor="middle" textLength="70.3" lengthAdjust="spacingAndGlyphs">MDL55</text>
<text x="1425.9" y="1945.2" font-size="13.2" fill="#414042" text-anchor="middle" textLength="44.5" lengthAdjust="spacingAndGlyphs">Латунь</text>
<text x="1425.9" y="2146.7" font-size="22.3" class="b" fill="#4b4c4e" text-anchor="middle">11</text>
<text x="1425.9" y="2185.9" font-size="22" class="b" fill="#4b4c4e" text-anchor="middle" textLength="70.3" lengthAdjust="spacingAndGlyphs">MDL11</text>

<!-- lock module images -->
<g transform="translate(695.8,1704)"><use href="#modBodyB"/><use href="#modCylKeyB"/></g>
<g transform="translate(692.1,1960)"><use href="#modBody"/><use href="#modCyl15"/></g>
<g transform="translate(854.9,1958.6)"><use href="#modBody"/><use href="#modCyl28"/></g>
<g transform="translate(1027.4,1959.2)"><use href="#modBody"/><use href="#modCyl39"/></g>
<g transform="translate(1201.5,1960)"><use href="#modBody"/><use href="#modCyl55"/></g>

<!-- brass euro-cylinder module -->
<g transform="translate(1364,1954)">
  <ellipse cx="15" cy="34.5" rx="14" ry="23.5" fill="#b59540"/>
  <ellipse cx="19" cy="35" rx="11" ry="21" fill="#8f7a3a"/>
  <path d="M8,55 L12.5,55 L12.5,80 L8,78 Z" fill="#c9aa4e"/>
  <path d="M12,30 L29.4,34 L29.4,86 L12,79 Z" fill="#d9dcdf"/>
  <path d="M11,39 L17,41 L17,56 L11,54 Z" fill="#2a2a2c"/>
  <path d="M29.4,7 L38,11.5 L27.5,35 L12,31.5 Q16,20 29.4,7 Z" fill="#8b8f93"/>
  <path d="M25,34 L29.4,31 L29.4,86 L25,84 Z" fill="#9a9ea2"/>
  <path d="M27.5,33 L31.5,35 L31.5,80 L27.5,84 Z" fill="#5d6064"/>
  <!-- lower left block -->
  <path d="M1.9,77.8 L27,88.6 L27,116 L1.9,106.3 Z" fill="#d5d9dc"/>
  <path d="M8,78 L22,84 L22,88 L8,82 Z" fill="#8a7430"/>
  <path d="M3,104 Q8,92 16,88 L20,96 Q14,100 12,108 Z" fill="#f3f4f5"/>
  <path d="M3,96 L12,92 L10,100 Z" fill="#a9adb1"/>
  <ellipse cx="17.7" cy="98.5" rx="3.6" ry="5.4" fill="#6b5a22"/>
  <!-- main body -->
  <path d="M29.4,7 L50.3,0.6 L110,18.2 L110,19 L62.9,32 L29.4,16.8 Z" fill="#eceef0"/>
  <path d="M29.4,16.8 L62.9,31.7 L62.9,53.1 L69,56 L69,138.4 L27,116 L27,88 L29.4,86 Z" fill="url(#mLeft)"/>
  <path d="M69,56 Q70,43 80,35.5 Q91,27.5 110,26.5 L110,40 L115.6,41 L115.6,102.5 L112.3,102.5 L112.3,121.2 L116,121.2 L115.6,124 L100.7,129.6 L69,138.4 Z" fill="url(#mFront)"/>
  <path d="M62.9,31.7 L110,18.6 L110,26.5 Q91,27.5 80,35.5 Q70,43 69,56 L62.9,53.1 Z" fill="url(#mCham)"/>
  <!-- top clip -->
  <path d="M43,10 L60,16 M45,14 L48,15 L48,13 L62,18" stroke="#6e7276" stroke-width="0.7" fill="none"/>
  <path d="M61,11.5 L73,5 L84,16 L72,22 Z" fill="#f7f8f8"/>
  <path d="M61,11.5 L72,22 L61.5,22.5 Z" fill="#9fa3a7"/>
  <path d="M62,18 L70,21.5" stroke="#2a2a2c" stroke-width="1"/>
  <ellipse cx="84.5" cy="18" rx="1.6" ry="2" fill="#1d1d1f"/>
  <ellipse cx="32.2" cy="108.1" rx="3.6" ry="5.2" fill="#7a682a"/>
  <path d="M28,104 L30,112 L27.5,114 Z" fill="#f3f4f5"/>
  <!-- brass profile -->
  <path d="M92.3,42.4 a19.2,24.8 0 0 1 11.8,44.4 L104,124 Q104,134 92,134.4 Q81.2,133 81.2,122 L81.2,87.6 a19.2,24.8 0 0 1 11.1,-45.2 Z" fill="#c0a04c"/>
  <path d="M96,88 L104,86 L104,124 Q104,133 96,134 Z" fill="#b08f3e" opacity="0.6"/>
  <ellipse cx="92" cy="67" rx="16.2" ry="21.8" fill="none" stroke="#4a401e" stroke-width="0.5"/>
  <path d="M90.5,48 L95,47.5 L95,54 L92.5,56.5 L95.5,58.5 L93,63 L95,66 L92.5,72.5 L90.8,73.5 L91.5,68 L90,65.5 L91.5,61.5 L89.8,58 L91.2,53.5 L90.3,50.5 Z" fill="#141414"/>
</g>

<!-- main product render -->
<defs>
  <linearGradient id="pBody" x1="0" y1="0" x2="1" y2="0">
    <stop offset="0" stop-color="#474749"/><stop offset="0.18" stop-color="#4a4a4c"/><stop offset="0.3" stop-color="#525254"/><stop offset="1" stop-color="#4b4b4d"/>
  </linearGradient>
  <linearGradient id="pCover" x1="0" y1="0" x2="1" y2="0">
    <stop offset="0" stop-color="#47474a"/><stop offset="0.15" stop-color="#525254"/><stop offset="1" stop-color="#4c4c4e"/>
  </linearGradient>
  <linearGradient id="pRodU" x1="0" y1="0" x2="0" y2="1">
    <stop offset="0" stop-color="#bcc0c4"/><stop offset="1" stop-color="#a9adb1"/>
  </linearGradient>
  <linearGradient id="pRodL" x1="0" y1="0" x2="0" y2="1">
    <stop offset="0" stop-color="#9da1a5"/><stop offset="0.5" stop-color="#b9bdc1"/><stop offset="1" stop-color="#c3c7ca"/>
  </linearGradient>
  <linearGradient id="pRodS" x1="0" y1="0" x2="0" y2="1">
    <stop offset="0" stop-color="#cdd1d4"/><stop offset="0.55" stop-color="#b9bdc0"/><stop offset="0.8" stop-color="#6c6e71"/><stop offset="1" stop-color="#2e2e30"/>
  </linearGradient>
  <linearGradient id="pCam" x1="0" y1="0" x2="1" y2="0">
    <stop offset="0" stop-color="#b9bdc1"/><stop offset="0.25" stop-color="#8c9094"/><stop offset="0.8" stop-color="#85898d"/><stop offset="1" stop-color="#a4a8ac"/>
  </linearGradient>
  <linearGradient id="pChrome" x1="0" y1="0" x2="0" y2="1">
    <stop offset="0" stop-color="#f2f3f4"/><stop offset="0.55" stop-color="#d9dcde"/><stop offset="1" stop-color="#b4b8bc"/>
  </linearGradient>
  <linearGradient id="pRodB" x1="0" y1="0" x2="0" y2="1">
    <stop offset="0" stop-color="#a2a6aa"/><stop offset="1" stop-color="#c6cacd"/>
  </linearGradient>
</defs>
<g>
  <!-- upper rod -->
  <path d="M354.5,318.5 L360.2,321 L360.2,392 L342,423.3 L342,545 L337.8,545 L337.8,421 L354.5,391 Z" fill="url(#pRodS)"/>
  <path d="M326.3,311.5 L334,310.2 L360.2,321 L354.5,322.5 Z" fill="#d9dcdf"/>
  <path d="M326.3,311.5 L354.5,322.5 L354.5,391 L326.3,379.4 Z" fill="url(#pRodU)"/>
  <path d="M326.3,379.4 L354.5,391 L337.8,421 L308,412.9 Z" fill="#6e7074"/>
  <path d="M308,412.9 L337.8,421 L337.8,545 L308,535 Z" fill="url(#pRodL)"/>
  <!-- nut and bolt on top -->
  <path d="M328.5,338.5 L333,332.8 L341.5,332.6 L346.6,337.6 L346.6,347.2 L342,353.4 L333.2,353.6 L328.5,348 Z" fill="#cfd4d8"/>
  <path d="M341.5,332.6 L346.6,337.6 L346.6,347.2 L342,353.4 L348,350 L349,340 Z" fill="#9a9ea2"/>
  <path d="M328.5,338.5 L333,332.8 L341.5,332.6 L338,337 L332,338 Z" fill="#e3e6e8"/>
  <ellipse cx="329" cy="344.4" rx="6" ry="7" fill="#6f7377"/>
  <ellipse cx="327.4" cy="344.8" rx="5.2" ry="6.2" fill="#eef0f2"/>
  <ellipse cx="326.8" cy="344.8" rx="4" ry="5" fill="#d5d9dd"/>
  <path d="M361.2,333.6 L369.3,335.4 L369.3,349.1 L361.2,347.3 Z" fill="#dfe2e5"/>
  <!-- cam -->
  <path d="M194.6,596.8 L205,591.6 L265.7,578 L272,579 L278.2,582.2 L294.3,581.1 L294.3,638.6 L268.8,639.7 L207.2,651.2 L195.7,644.9 L199.5,626 Q202,612 194.6,596.8 Z" fill="url(#pCam)"/>
  <path d="M194.6,596.8 L205,591.6 L265.7,578 L272,579 L266,584 L222,596 L207,610 Z" fill="#c6cacd"/>
  <path d="M266,584 L272,579 L278.2,582.2 L294.3,581.1 L294.3,590 L270,592 Z" fill="#d5d8db"/>
  <path d="M266,584 L270,592 L268.8,639.7 L264,640.5 Z" fill="#6f7377"/>
  <path d="M195.7,644.9 L207.2,651.2 L207.5,612 L199.5,626 Z" fill="#6a6e72"/>
  <!-- rear bracket -->
  <path d="M294.3,530 L300.2,527.7 L340,543 L340,677 L300.2,673.5 L294.3,669.5 Z" fill="#434345"/>
  <path d="M294.3,530 L300.2,527.7 L300.2,673.5 L294.3,669.5 Z" fill="#353537"/>
  <!-- light bracket lower left -->
  <path d="M317,856 L326.5,853.5 L327,950 L317,944.5 Z" fill="#b4b8bc"/>
  <path d="M317,856 L320,855.2 L320.5,946 L317,944.5 Z" fill="#d0d3d6"/>
  <!-- lower rod -->
  <path d="M404,1040 L410,1040 L410,1098.6 L375.4,1153 L374.4,1226 L368.5,1224 L368.5,1150 L404,1096 Z" fill="#c9cdd0"/>
  <path d="M376.5,1040 L404,1040 L404,1096 L376.5,1086 Z" fill="#b3b7bb"/>
  <path d="M376.5,1086 L404,1096 L368.5,1150 L341,1140.4 Z" fill="#6e7074"/>
  <path d="M341,1140.4 L368.5,1150 L368.5,1224 L341,1215.7 Z" fill="url(#pRodB)"/>
  <path d="M333,1192 L338,1185.5 L347.5,1185.5 L352.5,1191.5 L352.5,1201 L347.5,1207.5 L338,1207 L333,1200.5 Z" fill="#dfe2e4"/>
  <path d="M347.5,1185.5 L357,1189 L357,1201.5 L352.5,1201 L352.5,1191.5 Z" fill="#b9bdc1"/>
  <ellipse cx="377.5" cy="1193" rx="2.6" ry="4" fill="#6a6e72"/>
  <!-- main body -->
  <path d="M334.5,537.3 Q335.5,526 338.8,520.2 Q343,513 351,509.3 Q362,503.5 375.4,500.7 Q388,498 397.3,497.7 Q409,497.8 418,500.1 Q426,502.5 430.2,508 Q434.5,514 435.7,521.5 L437.6,553.2 L440.6,602 L445.5,699.5 L451.1,780 L451.1,893.8 L445.5,897 L445.5,1010 Q444.5,1034 428,1043.5 Q410,1048 388,1047.4 Q360,1047 343,1041 Q336,1048 331,1040 Q330,1030 326.3,1021 Q318,1003 315.2,978 Q314.5,962 317,954 L326.3,944 L326,760 L326.6,699.5 L329.6,602 L332.1,553.2 Z" fill="url(#pBody)"/>
  <path d="M334.5,537.3 Q335.5,526 338.8,520.2 Q343,513 351,509.3 Q362,503.5 375.4,500.7 Q388,498 397.3,497.7 Q409,497.8 418,500.1 Q426,502.5 430.2,508 Q434.5,514 435.7,521.5 L436.5,534 Q433,516 420,510 Q400,505.5 380,509 Q362,513 356,524 Q353,531 352.5,560 L350,640 L344,760 L341,640 L343,560 Z" fill="#606062" opacity="0.3"/>
  <path d="M326.3,944 L317,954 Q314.5,962 315.2,978 Q318,1003 326.3,1021 Q330,1030 331,1040 Q336,1048 343,1041 Q334,1030 331,1000 Z" fill="#39393b"/>
  <!-- handle recess and lever -->
  <path d="M370.5,744 L370.5,636 Q371,611 386,597 Q398,588.5 413,589 Q428,590 436,603.5 L440.6,602 L447,712 L449.5,725 L434.5,733 L405,745 Z" fill="#343436"/>
  <path d="M379,742 L379,632 Q380,614 392,601 Q401,594 413,594 Q429,595 437.5,613 L441.2,650.7 L446.7,709.3 L448.5,726 Z" fill="#4f4f51"/>
  <path d="M379,742 L379,632 Q380,614 392,601 Q401,594 413,594 Q429,595 437.5,613 L436,614 Q428,597.5 413,596.2 Q402,596 393.5,602.5 Q382,614.5 381.2,632 L381.2,741.5 Z" fill="#5c5c5e" opacity="0.7"/>
  <!-- lower cover -->
  <path d="M370.5,742.2 L404.6,741.6 Q405.5,754.4 418,754.4 Q431.5,754 434.5,731.8 L449.8,722.7 L451.1,723 L451.1,893.8 L370.2,906 Z" fill="url(#pCover)"/>
  <path d="M370.5,742.2 L404.6,741.6 Q405.5,754.4 418,754.4 Q431.5,754 434.5,731.8 L449.8,722.7 L451.1,723 L451.1,725.2 L436.3,733.6 Q433,756.5 418,756.8 Q404,756.8 402.6,743.8 L370.5,744.6 Z" fill="#69696b" opacity="0.8"/>
  <path d="M370.2,906 L451.1,893.8 L451.1,896.8 L370.2,909.5 Z" fill="#2c2c2e"/>
  <!-- button -->
  <path d="M397.4,828 Q397.6,818 408,815.5 L436,811.4 Q446,810.8 446.5,820 L446.5,862 Q446.3,872 436,874.4 L409,879 Q398,880 397.4,870 Z" fill="#343436"/>
  <path d="M399.6,829 Q399.8,820 409,818 L436,814 Q444.4,813.4 444.6,821.5 L444.6,861 Q444.4,870 435.5,872 L409.5,876.4 Q400,877.4 399.6,869 Z" fill="#4c4c4e"/>
  <!-- key window -->
  <path d="M373.4,908 L440.2,896.5 L440.2,973 L373.4,990 Z" fill="#2d2d2f"/>
  <path d="M380.7,912.5 L431.5,902 L431.5,973.2 Q405,974 380.7,986.8 Z" fill="url(#pChrome)"/>
  <path d="M380.7,906.5 L431.5,898.3 L431.5,902 L380.7,912.5 Z" fill="#1f1f21"/>
  <clipPath id="cChrome"><path d="M380.7,912.5 L431.5,902 L431.5,973.2 Q405,974 380.7,986.8 Z"/></clipPath>
  <g clip-path="url(#cChrome)">
    <ellipse cx="407.8" cy="924" rx="19.4" ry="20.6" fill="#f7f8f8" stroke="#4a4a4c" stroke-width="0.9"/>
    <ellipse cx="407.8" cy="925" rx="17.6" ry="19" fill="none" stroke="#c9ccce" stroke-width="0.8"/>
  </g>
  <path d="M405.5,914 L410.2,913.2 L409,920 L406.8,922.5 L409.4,927 L410.6,933 L407,934.6 L407,929.5 L404.6,925.5 L403.8,920.5 Z" fill="#111"/>
  <ellipse cx="404" cy="925" rx="1.8" ry="4.2" fill="#f6f7f7"/>
</g>

<!-- NEW badge -->
<g transform="translate(647.6,384.2)">
  <g fill="#e31b23">
    <path d="M0,-63 L23,-40 A46.2,46.2 0 0 0 -23,-40 Z"/>
    <path d="M0,63 L23,40 A46.2,46.2 0 0 1 -23,40 Z"/>
    <path d="M-63,0 L-40,-23 A46.2,46.2 0 0 0 -40,23 Z"/>
    <path d="M63,0 L40,-23 A46.2,46.2 0 0 1 40,23 Z"/>
  </g>
  <text x="0.6" y="9.6" font-size="28" fill="#4b4c4e" text-anchor="middle" textLength="74" lengthAdjust="spacingAndGlyphs">новый</text>
</g>
<!-- feature icons -->
<g id="iconFrames" fill="#e2efd5" stroke="#6cbf44" stroke-width="2">
  <rect x="579.9" y="475.8" width="100" height="62.2"/>
  <rect x="579.9" y="561.8" width="100" height="62.2"/>
  <rect x="579.9" y="647.9" width="100" height="62.2"/>
  <rect x="579.9" y="733.9" width="100" height="62.2"/>
  <rect x="579.9" y="819.8" width="100" height="62.2"/>
  <rect x="579.9" y="905.2" width="100" height="62.4"/>
</g>
<!-- icon 1: gasket -->
<defs><linearGradient id="iNoz" x1="0" y1="0" x2="1" y2="0"><stop offset="0" stop-color="#6d6e71"/><stop offset="0.5" stop-color="#d1d3d4"/><stop offset="1" stop-color="#77787b"/></linearGradient></defs>
<g transform="translate(578.9,474.8)">
  <rect x="33" y="1.6" width="14.7" height="14" fill="url(#iNoz)"/>
  <path d="M22,14.8 L28.4,13.6 L80.2,36.8 L77.6,52.8 L50,60.3 L23,25.2 Z" fill="#4b4c4e" stroke="#fff" stroke-width="0.9" stroke-linejoin="round"/>
  <path d="M22,14.8 L50.7,43.8 L50,60.3 L23,25.2 Z" fill="#4b4c4e" stroke="#fff" stroke-width="0.9" stroke-linejoin="round"/>
  <path d="M28.4,13.6 L34.5,12.8 L62,37.5 L50.7,43.8 L22,14.8 Z" fill="#4b4c4e" stroke="#fff" stroke-width="0.7" stroke-linejoin="round"/>
  <path d="M44,14.5 L80.2,36.8 L70,39.5 L43,17.5 Z" fill="#231f20"/>
  <path d="M36.5,14.5 L44,14.5 L70,39 L62,41.5 Z" fill="#8a8c8f"/>
  <path d="M50.7,43.8 L62,41 L62,50 Q65,54 68.5,50 L69,39.5 L80.2,36.8 L77.6,52.8 L50,60.3 Z" fill="#4b4c4e" stroke="#fff" stroke-width="0.9" stroke-linejoin="round"/>
  <path d="M62.6,41.5 Q65.5,37.5 68.6,40.5 L68.4,50 Q65.5,53.5 62.8,50 Z" fill="#d7d9da"/>
</g>
<!-- icon 2: RoHS -->
<g transform="translate(578.9,560.8)">
  <path d="M31,25.4 L38.4,21.3 L42.5,28 Q49,15 57,8 L57.8,18.5 Q49,26 42.5,35.8 Q37,28 31,25.4 Z" fill="#4b4c4e"/>
  <text x="23.9" y="54.1" font-size="25.5" class="b" fill="#4b4c4e" textLength="55.5" lengthAdjust="spacingAndGlyphs">RoHS</text>
</g>
<!-- icon 3: IP 65 -->
<g transform="translate(578.9,646.9)">
  <path d="M22.2,15.9 Q32.4,28 32.1,34.5 A9.9,9.9 0 0 1 12.3,34.5 Q12.2,28 22.2,15.9 Z" fill="#4b4c4e"/>
  <path d="M14.6,33 Q18,32 18.8,32.6 Q19.5,39 24.5,41.6 Q16,42.8 14.6,33 Z" fill="#fff"/>
  <text x="38" y="43.1" font-size="25.5" class="b" fill="#4b4c4e" textLength="52.2" lengthAdjust="spacingAndGlyphs">IP 65</text>
</g>
<!-- icon 4: flush door section -->
<g>
  <path d="M580.9,734.9 H657.8 V757.5 H620 V782.5 H580.9 Z" fill="#d1d3d4"/>
  <path d="M657.8,734.9 V757.5 H620 V777" fill="none" stroke="#4b4c4e" stroke-width="3"/>
  <path d="M580.9,782.5 H657.2 V762" fill="none" stroke="#4b4c4e" stroke-width="3"/>
  <rect x="629.3" y="764.9" width="20.1" height="9.7" fill="#4b4c4e"/>
  <rect x="612.9" y="776.1" width="12.7" height="5.6" fill="#6d6e71"/>
</g>
<!-- icon 5: surface door section -->
<g>
  <path d="M580.9,820.8 H655.5 V844.3 H642.7 V872.5 H580.9 Z" fill="#d1d3d4"/>
  <path d="M655.5,820.8 V844.3 H642.7 V869.5" fill="none" stroke="#4b4c4e" stroke-width="3"/>
  <path d="M580.9,872.5 H655.4 V850.1" fill="none" stroke="#4b4c4e" stroke-width="3"/>
  <rect x="607" y="856.2" width="22.7" height="11.4" fill="#4b4c4e"/>
  <rect x="637.1" y="867" width="10.1" height="4.2" fill="#6d6e71"/>
</g>
<!-- icon 6: L / R -->
<g>
  <path d="M594,906.2 H625.6 V966.6 H594 V963.2 H600.2 V957.3 H594 V918.1 H600.2 V912.2 H594 Z" fill="#4b4c4e"/>
  <path d="M634.1,906.2 H665.6 V912.2 H659.5 V918.1 H665.6 V957.3 H659.5 V963.2 H665.6 V966.6 H634.1 Z" fill="#4b4c4e"/>
  <rect x="617.7" y="931.2" width="4.5" height="11.2" fill="#e2efd5"/>
  <rect x="637.1" y="931.2" width="4.5" height="11.2" fill="#e2efd5"/>
  <text x="597.6" y="946.5" font-size="27.5" class="b" fill="#fff" textLength="13.4" lengthAdjust="spacingAndGlyphs">L</text>
  <text x="645.6" y="946.5" font-size="27.5" class="b" fill="#fff" textLength="17.6" lengthAdjust="spacingAndGlyphs">R</text>
</g>

<!-- mounting cut-out drawing -->
<g stroke="#231f20" fill="none">
  <rect x="797" y="414.8" width="64.9" height="128" stroke-width="1.7"/>
  <rect x="797" y="672.2" width="64.9" height="127.1" stroke-width="1.7"/>
  <g stroke-width="0.9">
    <path d="M830.1,414.8 V807" stroke-dasharray="22 3 3 3"/>
    <path d="M781.2,480.5 H868.2" stroke-dasharray="18 3 3 3"/>
    <path d="M781.2,737.2 H868.2" stroke-dasharray="18 3 3 3"/>
    <path d="M797,390.6 V411.8 M861.9,390.6 V411.8 M861.9,414.8 H891.8 M861.9,542.8 H891.8 M861.9,672.2 H891.8 M861.9,799.3 H891.8 M797,802.4 V843.5 M861.9,802.4 V843.5"/>
    <path d="M797,395.3 H861.9" marker-start="url(#arr)" marker-end="url(#arr)"/>
    <path d="M797,838.8 H861.9" marker-start="url(#arr)" marker-end="url(#arr)"/>
    <path d="M888.7,414.8 V542.8" marker-start="url(#arr)" marker-end="url(#arr)"/>
    <path d="M888.7,672.2 V799.3" marker-start="url(#arr)" marker-end="url(#arr)"/>
    <path d="M783.5,480.5 V737.2" marker-start="url(#arr)" marker-end="url(#arr)"/>
  </g>
</g>
<g fill="#231f20" font-size="17.5" text-anchor="middle">
  <text x="829" y="386.6">25</text>
  <text x="829" y="832.7">25</text>
  <text transform="translate(885,478.8) rotate(-90)">50</text>
  <text transform="translate(885,735.5) rotate(-90)">50</text>
  <text transform="translate(780.3,616) rotate(-90)">100</text>
</g>
<text x="857" y="594.1" font-size="18" fill="#58595b" textLength="100" lengthAdjust="spacingAndGlyphs">Монтажное</text>
<text x="857" y="618.8" font-size="18" fill="#58595b" textLength="89" lengthAdjust="spacingAndGlyphs">отверстие</text>

<!-- side view drawing -->
<g fill="none" stroke="#231f20" stroke-width="1.5" stroke-linejoin="round" stroke-linecap="round">
  <!-- rod -->
  <path d="M1096.1,432.1 V251 Q1096.1,248.3 1098.8,248.3 H1129.6 Q1132.3,248.3 1132.3,251 V432.1"/>
  <path d="M1096.1,573.5 V1020.5 Q1096.1,1023.2 1098.8,1023.2 H1129.6 Q1132.3,1023.2 1132.3,1020.5 V573.5"/>
  <path d="M1096.1,305 H1132.3 M1096.1,312 H1132.3 M1096.1,328.4 H1132.3 M1096.1,332 H1132.3 M1096.1,643.7 H1132.3 M1096.1,647.3 H1132.3 M1096.1,658.6 H1132.3 M1096.1,662.2 H1132.3 M1096.1,922.6 H1132.3 M1096.1,929 H1132.3 M1096.1,962.8 H1132.3 M1096.1,967.4 H1132.3" stroke-width="1.2"/>
  <!-- top nut -->
  <path d="M1114.4,258.8 L1124.6,264.7 V276.5 L1114.4,282.4 L1104.2,276.5 V264.7 Z" stroke-width="1.7"/>
  <circle cx="1114.4" cy="270.6" r="6.8" stroke-width="0.8"/>
  <path d="M1098,270.6 H1131 M1114.4,254 V287" stroke-width="0.5" stroke="#6d6e71"/>
  <!-- bottom nut -->
  <path d="M1102.4,1000.7 L1107.6,990.3 H1120.6 L1126.4,1000.7 L1120.6,1011.1 H1108.2 Z" stroke-width="1.8"/>
  <circle cx="1114.4" cy="1000.7" r="7.6" stroke-width="1.3"/>
  <circle cx="1114.4" cy="1000.7" r="5" stroke-width="0.8"/>
  <circle cx="1114.4" cy="1000.7" r="2.4" stroke-width="0.8"/>
  <!-- handle body -->
  <path d="M1082.4,401 V858.6 H1062.3 Q1037.6,856 1037.6,820 V802"/>
  <path d="M1082.4,401 H1064 Q1059.5,401 1057.5,406 Q1050.4,425 1047.5,448 Q1045.5,462 1044.9,469.8"/>
  <path d="M1063.2,402 V858.6"/>
  <!-- lever -->
  <path d="M1038.3,470.4 H1044.9 Q1048.3,478 1049,502.4 H1042.4"/>
  <path d="M1038.3,470.4 Q1037.6,471 1037.2,476 Q1032.5,560 1027.8,659.5"/>
  <path d="M1041.4,472 Q1041,480 1039,520 L1035.9,593.6" stroke-width="1.1"/>
  <path d="M1042.4,503 L1039.4,593.6 M1035.9,593.6 H1044" stroke-width="1.1"/>
  <path d="M1039.4,593.6 V659.5 M1044,593.6 V659.5"/>
  <path d="M1027.8,659.5 H1044.5 V801.9 H1025.7 V782 M1025.7,716.2 L1027.8,659.5"/>
  <path d="M1025.7,716.2 Q1022.3,720 1023,724.5 Q1029,751 1023,776.6 Q1022.5,780 1025.7,782"/>
  <path d="M1026.5,719 Q1032,751 1026.3,780" stroke-width="0.8"/>
  <path d="M1032,660 V801.5 M1038.5,660 V801.5" stroke-width="1.1"/>
  <!-- adapter block -->
  <rect x="1086" y="432.1" width="56.7" height="141.4"/>
  <path d="M1091.2,432.1 V573.5 M1137.8,432.1 V573.5" stroke-width="1.2"/>
  <path d="M1114.4,432.1 V573.5" stroke-width="0.9"/>
  <path d="M1086,435.5 H1091.2 M1086,570 H1091.2 M1137.8,435.5 H1142.7 M1137.8,570 H1142.7" stroke-width="0.8"/>
  <path d="M1083.8,439 V560 M1083.8,466 H1086 M1083.8,484 H1086 M1083.8,520 H1086 M1083.8,540 H1086" stroke-width="0.8"/>
  <!-- cam -->
  <path d="M1143.3,480.5 H1156.5 M1143.3,524.5 H1156.5 M1149.5,480.5 V524.5"/>
  <path d="M1156.5,479.5 L1176.2,477.9 Q1170.5,502.5 1176.2,527.2 L1156.5,525.5 Z"/>
  <path d="M1156.5,479.5 V525.5 M1159.5,480 V525 M1162.5,486 H1166 V519 H1162.5 M1160,493 H1166 M1160,511 H1166" stroke-width="1"/>
  <rect x="1161.5" y="498" width="4.2" height="6" fill="#231f20" stroke-width="0.6"/>
  <!-- details between body and rod -->
  <path d="M1082.4,694 H1096.1 M1082.4,699.4 H1096.1 M1082.4,814.7 H1096.1 M1082.4,818.9 H1096.1" stroke-width="1.2"/>
  <path d="M1096.1,783.6 A10,10 0 0 0 1096.1,803.6" stroke-width="1.2"/>
  <path d="M1093,790 q2,1 0,3 q-2,2 1,3" stroke-width="1"/>
  <path d="M1085.1,861.5 L1096.1,841.2 M1085.1,861.5 H1096.1 M1085.1,859.5 H1096.1" stroke-width="1.3"/>
</g>
<!-- dimension 23 -->
<g stroke="#6d6e71" stroke-width="0.7" fill="none">
  <path d="M1023.3,368 V716 M1082.4,368 V401 M1003.7,372.7 H1102.5"/>
</g>
<path d="M1023.3,372.7 L1013.3,370.1 V375.3 Z M1082.4,372.7 L1092.4,370.1 V375.3 Z" fill="#231f20"/>
<text x="1050.4" y="367.5" font-size="19" fill="#231f20" text-anchor="middle">23</text>

<!-- front view drawing -->
<g fill="none" stroke="#231f20" stroke-width="1.5" stroke-linejoin="round" stroke-linecap="round">
  <!-- ghost rods (alternate position) -->
  <g stroke="#58595b" stroke-width="0.7">
    <path d="M1391.6,300 V352 L1372,380 M1399,300 V356 L1380.2,383"/>
    <path d="M1375,309 H1391.6 V332.5 H1375 Z M1399,309 H1413.7 V332.5 H1399 Z M1375,320.6 H1391.6 M1399,320.6 H1413.7"/>
    <path d="M1442.8,875 L1405.5,915 V962 M1450,880 L1412.8,920 V962"/>
    <path d="M1390,940.5 H1405.5 V962 H1390 Z M1412.8,940.5 H1429 V962 H1412.8 Z M1390,951.3 H1405.5 M1412.8,951.3 H1429"/>
  </g>
  <!-- upper rod -->
  <path d="M1391.1,250 Q1391.1,248.9 1392.2,248.9 H1397.8 Q1398.9,248.9 1398.9,250 V299.7 L1379.9,328.4 V403 M1391.1,250 V297.5 Q1391,300 1389.5,302 L1372.6,326 Q1371.2,328 1371.2,330.5 V404.5"/>
  <path d="M1391.1,251.2 H1398.9" stroke-width="1"/>
  <!-- upper nuts -->
  <path d="M1378.5,260.8 H1391.1 V281.7 H1378.5 Q1377.3,281.7 1377.3,280.5 V262 Q1377.3,260.8 1378.5,260.8 Z M1377.3,271.2 H1391.1"/>
  <path d="M1377.3,263.8 Q1374.3,266 1374.3,271.2 Q1374.3,276.5 1377.3,278.8" stroke-width="2.2"/>
  <path d="M1398.9,258.7 H1413.1 Q1414.3,258.7 1414.3,259.9 V281.7 Q1414.3,282.9 1413.1,282.9 H1398.9 Z M1405,258.7 V282.9 M1405,270.8 H1414.3"/>
  <!-- body outline -->
  <path d="M1402.6,400.8 Q1425,400.8 1437,404.5 Q1447,408 1448.6,420 Q1454.6,520 1456.4,600 L1456.8,828 Q1456,852 1430,853.8 Q1402.6,856 1375,853.8 Q1349.5,852 1348.7,828 L1348.7,600 Q1350.4,520 1356.9,424.8 Q1358,408 1369,404.5 Q1380,400.8 1402.6,400.8 Z" stroke-width="1.9"/>
  <!-- handle slot -->
  <path d="M1368.9,659.5 V503.2 A33.55,33.55 0 0 1 1436,503.2 V659.5" stroke-width="4.8" stroke-linecap="butt"/>
  <path d="M1366.5,560 V501.3 A36,36 0 0 1 1438.5,501.3 V560" stroke-width="0.9"/>
  <!-- cover -->
  <path d="M1363.7,659.5 H1385.2 Q1386,676.9 1402.6,676.9 Q1419.6,676.9 1420.5,659.5 H1441.6 V802 H1363.7 Z" stroke-width="1.8"/>
  <path d="M1366.3,661 V800.5 M1439,661 V800.5" stroke-width="0.9"/>
  <path d="M1364,800.3 H1441.3" stroke-width="0.9"/>
  <!-- button -->
  <path d="M1402.6,715.9 Q1420,715.9 1427,718.5 Q1434.5,721.5 1435.3,733 Q1436.3,750 1435.3,767 Q1434.5,778.5 1427,781 Q1420,783.6 1402.6,783.6 Q1385,783.6 1378,781 Q1370.5,778.5 1369.7,767 Q1368.7,750 1369.7,733 Q1370.5,721.5 1378,718.5 Q1385,715.9 1402.6,715.9 Z" stroke-width="1.1"/>
  <path d="M1402.6,723 Q1416,723 1421.5,725 Q1427.5,727.5 1428.2,736 Q1429,750 1428.2,764 Q1427.5,772.5 1421.5,775 Q1416,777 1402.6,777 Q1389.5,777 1384,775 Q1378,772.5 1377.3,764 Q1376.5,750 1377.3,736 Q1378,727.5 1384,725 Q1389.5,723 1402.6,723 Z" stroke-width="2"/>
  <path d="M1402.6,716 V723 M1402.6,777 V783.5" stroke-width="0.6" stroke="#58595b"/>
  <!-- cam on left -->
  <path d="M1352.8,478.6 H1293 Q1287.8,478.6 1287.8,484 V521.5 Q1287.8,527 1293,527 H1352.8"/>
  <path d="M1351.5,478.6 V527" stroke-width="2"/>
  <path d="M1289,492 L1313,479 M1289,497 L1322.5,479 M1289,513.5 L1313,526.6 M1289,508.5 L1322.5,526.6" stroke-width="1.2"/>
  <!-- feet -->
  <path d="M1371.3,857.4 V862 Q1371.3,863.1 1372.4,863.1 H1390.7 Q1391.8,863.1 1391.8,862 V856.5 M1413.3,856.5 V862 Q1413.3,863.1 1414.4,863.1 H1432.7 Q1433.8,863.1 1433.8,862 V855"/>
  <path d="M1402.6,855.5 V858" stroke-width="0.8"/>
  <!-- lower rod -->
  <path d="M1442.6,852 V925 L1405.7,962 V1023.1 H1413.3 V964.5 L1450.2,927 V847"/>
  <path d="M1405.7,1021 H1413.3 M1405.7,971 H1413.3" stroke-width="0.9"/>
  <!-- lower nuts -->
  <path d="M1390.9,990.7 H1405.7 V1011.6 H1390.9 Q1389.7,1011.6 1389.7,1010.4 V991.9 Q1389.7,990.7 1390.9,990.7 Z M1396,990.7 V1011.6 M1389.7,1001.2 H1396"/>
  <path d="M1413.3,990.7 H1425 Q1426.2,990.7 1426.2,991.9 V1010.4 Q1426.2,1011.6 1425,1011.6 H1413.3 Z M1413.3,1001.2 H1426.2"/>
  <path d="M1426.2,993.8 Q1429.3,996 1429.3,1001.2 Q1429.3,1006.4 1426.2,1008.6" stroke-width="2.2"/>
</g>
<!-- dimensions -->
<g stroke="#6d6e71" stroke-width="0.7" fill="none">
  <path d="M1231.8,271 H1427.6 M1266,320.6 H1427.6 M1266,951.3 H1438.9 M1231.8,1001.4 H1438.9"/>
  <path d="M1236.9,271 V1001.4 M1271.4,320.6 V951.3"/>
  <path d="M1348.7,377.7 V580 M1456.4,377.7 V560 M1348.7,383.4 H1456.4"/>
  <path d="M1423.5,400.8 H1501.9 M1413.3,859.4 H1501.9 M1497,400.8 V859.4"/>
</g>
<g fill="#231f20">
  <path d="M1236.9,271 L1234.3,281 H1239.5 Z M1236.9,1001.4 L1234.3,991.4 H1239.5 Z"/>
  <path d="M1271.4,320.6 L1268.8,330.6 H1274 Z M1271.4,951.3 L1268.8,941.3 H1274 Z"/>
  <path d="M1497,400.8 L1494.4,410.8 H1499.6 Z M1497,859.4 L1494.4,849.4 H1499.6 Z"/>
  <path d="M1348.7,383.4 L1359.2,380.7 V386.1 Z M1456.4,383.4 L1445.9,380.7 V386.1 Z"/>
</g>
<g fill="#231f20" font-size="20.5" text-anchor="middle">
  <text x="1407.5" y="378">42</text>
  <text transform="translate(1232.8,634.9) rotate(-90)">288</text>
  <text transform="translate(1267.7,631.8) rotate(-90)">245</text>
  <text transform="translate(1493.3,640) rotate(-90)">180</text>
</g>

<!-- cam / LH detail drawing -->
<g fill="none" stroke="#231f20" stroke-width="1.5" stroke-linejoin="round" stroke-linecap="round">
  <!-- cam -->
  <path d="M1364.5,1118.6 Q1361.5,1118 1360.3,1113 Q1357.5,1104 1348.7,1103.1 L1324.4,1102.7 L1296,1097 Q1289,1095.8 1288.2,1101 L1288,1110 Q1288.2,1112.6 1291,1112.2 L1300.2,1109.4 L1324.4,1113 L1347,1113.3 Q1351,1114 1352,1119 Q1354,1127.5 1361,1128.1 L1364.5,1128.3"/>
  <path d="M1290.8,1111.6 Q1291.5,1102 1296,1097.3" stroke-width="1"/>
  <path d="M1352.5,1108 L1361.5,1122 M1349.5,1110.5 L1357.5,1125.5" stroke-width="0.9"/>
  <!-- plate, washer, nut -->
  <rect x="1364.5" y="1118.6" width="61.5" height="9.5"/>
  <rect x="1386" y="1114.8" width="33.5" height="3.8"/>
  <path d="M1388.7,1114.8 V1108 Q1388.7,1105.5 1391.2,1105.5 H1414.2 Q1416.7,1105.5 1416.7,1108 V1114.8 M1400,1105.5 V1114.8"/>
  <path d="M1386,1128.1 V1131.5 H1419.5 V1128.1" stroke-width="1"/>
  <!-- box -->
  <rect x="1365.8" y="1129.8" width="74.2" height="55.9"/>
  <path d="M1365.8,1134.4 H1440 M1365.8,1181.4 H1440 M1368.6,1134.4 V1181.4 M1437.2,1134.4 V1181.4" stroke-width="1.1"/>
  <rect x="1372" y="1139.6" width="27" height="36.8" stroke-width="1.3"/>
  <path d="M1374.5,1141.5 V1174.5 M1372,1176.4 L1399,1168 M1390.6,1139.6 V1176.4 M1396.4,1141 V1175" stroke-width="0.9"/>
  <rect x="1425.1" y="1140" width="9.3" height="35.4" stroke-width="1.3"/>
  <path d="M1427.4,1141.5 V1174" stroke-width="0.8"/>
  <path d="M1399,1157.7 H1425.1"/>
  <rect x="1405.5" y="1147.5" width="8.4" height="21.4"/>
  <path d="M1405.5,1153.5 H1413.9 M1405.5,1163 H1413.9" stroke-width="0.9"/>
  <rect x="1399" y="1151.5" width="6.5" height="12.5" stroke-width="1.1"/>
  <path d="M1381,1147.5 H1390.6 V1168.5 H1381 Z M1381,1158 H1390.6 M1381,1149.5 Q1374.8,1152 1374.8,1158 Q1374.8,1164 1381,1166.5" stroke-width="1.3"/>
  <rect x="1440" y="1140" width="10.3" height="35.4"/>
  <rect x="1369.2" y="1185.7" width="68" height="2.9" stroke-width="1"/>
  <path d="M1386,1186.8 H1419.5" stroke-width="0.8"/>
  <!-- dome -->
  <path d="M1348.7,1189.4 H1458.3 V1209 Q1456.5,1221 1438.2,1226.5 M1367.3,1226.5 Q1350.5,1221 1348.7,1209 V1189.4"/>
  <path d="M1348.7,1209 H1458.3" stroke-width="2.1"/>
  <!-- lower cap -->
  <path d="M1366.8,1223.4 Q1402.7,1230.5 1438.6,1223.4 L1441.9,1232.5 Q1440,1240 1428.8,1244.4 Q1402.7,1252.5 1376.6,1244.4 Q1365.5,1240 1363.6,1232.5 Z" stroke-width="1.8"/>
  <path d="M1369.5,1228.2 Q1402.7,1235.2 1436,1228.2 M1366.2,1234 Q1402.7,1244.6 1439.3,1234 M1371.5,1238.6 Q1402.7,1248.2 1434,1238.6" stroke-width="1.5"/>
  <path d="M1378,1245.8 Q1402.7,1251 1427.4,1245.8" stroke-width="0.8"/>
</g>
<g stroke="#6d6e71" stroke-width="0.7" fill="none">
  <path d="M1402.7,1061.7 V1260 M1288,1061.7 V1100 M1288,1067.3 H1402.7"/>
  <path d="M1255,1113.3 H1288 M1255,1189.4 H1348.7 M1259.5,1113.3 V1189.4"/>
  <path d="M1440,1128.3 H1500.3 M1457.7,1189.4 H1500.3 M1495.6,1128.3 V1189.4"/>
</g>
<g fill="#231f20">
  <path d="M1288,1067.3 L1298.5,1064.6 V1070 Z M1402.7,1067.3 L1392.2,1064.6 V1070 Z"/>
  <path d="M1259.5,1113.3 L1256.9,1123.3 H1262.1 Z M1259.5,1189.4 L1256.9,1179.4 H1262.1 Z"/>
  <path d="M1495.6,1128.3 L1493,1138.3 H1498.2 Z M1495.6,1189.4 L1493,1179.4 H1498.2 Z"/>
</g>
<g fill="#231f20" font-size="21" text-anchor="middle">
  <text x="1348.3" y="1062" font-size="20">CL</text>
  <text transform="translate(1255.1,1150.8) rotate(-90)">H</text>
  <text transform="translate(1488.5,1158.7) rotate(-90)" textLength="50" lengthAdjust="spacingAndGlyphs">LH:25</text>
</g>

<!-- exploded assembly view -->
<defs>
  <linearGradient id="eHandle" x1="0" y1="0" x2="1" y2="0">
    <stop offset="0" stop-color="#a9abad"/><stop offset="0.18" stop-color="#8f9193"/><stop offset="1" stop-color="#7b7d80"/>
  </linearGradient>
</defs>
<g>
  <!-- small clip -->
  <path d="M726,932 q3,-5 8,-3 l2,3 l5,2 l-1,5 l-6,1 l-2,4 l-6,-3 z" fill="#c9cbcd"/>
  <path d="M727,930 q4,-3 6,0" stroke="#6d6e71" stroke-width="0.9" fill="none"/>
  <!-- cam -->
  <path d="M714.2,963.8 L755.5,947.3 Q762,943.5 768.5,948.5 L769.7,955.6 L747.2,972.1 L739,973.3 L718.9,981.6 L714.2,976.8 Q717,970 714.2,963.8 Z" fill="#c3c5c7"/>
  <path d="M739,958 L746,955 L747.2,972.1 L739,973.3 Z" fill="#a3a5a7"/>
  <path d="M751,955.5 L763,950.5 L763.5,956 L751.5,961 Z" fill="#8d8f91"/>
  <path d="M714.2,976.8 L718.9,981.6 L739,973.3 L739,969 L720,976 Z" fill="#9d9fa1"/>
  <!-- gear bushing -->
  <path d="M773.5,962 l4,-4 l6,0 l3,3 l4,1 l1,6 l-3,5 l-6,2 l-5,-2 l-4,-4 z" fill="#9b9da0"/>
  <path d="M777.5,960 l6,-1 l1,14 l-6,-1 z" fill="#c9cbcd"/>
  <!-- screws -->
  <g stroke-linecap="round">
    <path d="M785,949 L811,962.5" stroke="#9a9c9f" stroke-width="4.2"/>
    <path d="M785,990.5 L811,1003" stroke="#9a9c9f" stroke-width="4.2"/>
  </g>
  <ellipse cx="784.5" cy="948.8" rx="2.6" ry="4.4" fill="#dcdee0" transform="rotate(-25 784.5 948.8)"/>
  <ellipse cx="784.5" cy="990.2" rx="2.6" ry="4.4" fill="#dcdee0" transform="rotate(-25 784.5 990.2)"/>
  <!-- upper rod -->
  <path d="M826.2,899.9 L829,898.5 L842,905 L839.8,906.5 Z" fill="#e8e9ea"/>
  <path d="M826.2,899.9 L839.8,906.5 L839.8,929.7 L833,938.4 L831.8,980 L820,975 L820,934.7 L826.2,924.7 Z" fill="#d7d9db"/>
  <path d="M826.2,899.9 L839.8,906.5 L839.8,929.7 L833,938.4 L820,934.7 L826.2,924.7 Z" fill="#b4b6b8"/>
  <path d="M839.8,906.5 L842,905 L842,930 L835,939.5 L834,978 L831.8,980 L833,938.4 L839.8,929.7 Z" fill="#e3e4e5"/>
  <ellipse cx="829.4" cy="913" rx="3.2" ry="3.6" fill="#d9dbdd" stroke="#8d8f91" stroke-width="0.7"/>
  <!-- lower rod -->
  <path d="M837,1030 L850,1030 L855.9,1053.6 L854.7,1149.2 L842.9,1169.3 L842.9,1195.3 L829.9,1191.8 L829.9,1165.8 L842.9,1146.9 L842.9,1048.9 L837,1045.3 Z" fill="#d7d9db"/>
  <path d="M850,1030 L855.9,1053.6 L854.7,1149.2 L842.9,1169.3 L842.9,1195.3 L845.5,1193.5 L845.5,1170 L857.2,1150 L858.4,1052 L852.5,1029 Z" fill="#b9bbbd"/>
  <path d="M842.9,1146.9 L854.7,1149.2 L842.9,1169.3 L829.9,1165.8 Z" fill="#e9eaeb"/>
  <ellipse cx="829.8" cy="1187" rx="3.4" ry="4" fill="#b1b3b5"/>
  <ellipse cx="836.5" cy="1183.5" rx="1.6" ry="2.4" fill="#8d8f91"/>
  <!-- adapter block -->
  <path d="M814.5,973.3 L837,960.3 L855.9,970.9 L831.1,983.9 Z" fill="#a5a7a9"/>
  <path d="M819.5,973.4 L837,963.5 L850.5,971 L831.5,980.5 Z" fill="#505254"/>
  <path d="M814.5,973.3 L831.1,983.9 L831.1,1035.9 L814.5,1024.1 Z" fill="#6b6d6f"/>
  <path d="M831.1,983.9 L855.9,970.9 L855.9,1021.7 L831.1,1035.9 Z" fill="#8d8f91"/>
  <ellipse cx="844.3" cy="984" rx="3.6" ry="4.4" fill="#b9bbbd"/>
  <ellipse cx="842" cy="1002.6" rx="7.8" ry="9.6" fill="#55575a"/>
  <ellipse cx="843.4" cy="1001.6" rx="4.6" ry="6" fill="#7f8184"/>
  <ellipse cx="844.3" cy="1021.8" rx="3.6" ry="4.4" fill="#b9bbbd"/>
  <!-- small screw -->
  <ellipse cx="860.8" cy="1163" rx="3.2" ry="3.6" fill="#9a9c9f"/>
  <path d="M858,1166 l3,5 l2.4,-1 l-2,-5 z" fill="#b9bbbd"/>
  <!-- dark cover box -->
  <path d="M790.9,1056 L811,1044.1 L839.3,1053.6 L818.1,1068.9 Z" fill="#8f9193"/>
  <path d="M788.6,1059.5 Q788.6,1055.5 790.9,1056 L818.1,1068.9 L813.5,1120.9 L790.5,1101.5 Q788.6,1099.7 788.6,1097 Z" fill="#77797b"/>
  <path d="M818.1,1068.9 L839.3,1053.6 L839.3,1104.4 L813.5,1120.9 Z" fill="#5e6062"/>
  <path d="M820.5,1071.5 L837,1059.5 L837,1101.5 L816.5,1114.5 Z" fill="#707274"/>
  <path d="M820.5,1071.5 L837,1059.5 L837,1066 L822,1077 L818.5,1108 L816.5,1114.5 Z" fill="#4f5153"/>
  <path d="M824,1093 l6,-3 l0,6 l-6,3 z" fill="#4f5153"/>
  <!-- lock module -->
  <path d="M878.3,1112.6 L896,1100.8 L919.6,1112.6 L901.9,1125.6 Z" fill="#dfe1e3"/>
  <path d="M887,1108 L897,1103.5 L909,1110 L903,1116 Z" fill="#b9bbbd"/>
  <path d="M878.3,1112.6 L901.9,1125.6 L901.9,1162.2 L878.3,1146.9 Z" fill="#c2c4c6"/>
  <path d="M901.9,1125.6 Q903,1119 909,1117.5 L920.8,1116.2 L920.8,1151.6 L901.9,1162.2 Z" fill="#d5d7d9"/>
  <ellipse cx="913.5" cy="1136.3" rx="6" ry="7" fill="#bdbfc1"/>
  <ellipse cx="914.2" cy="1136.3" rx="3.6" ry="4.4" fill="#f0f1f2"/>
  <ellipse cx="914.6" cy="1136.3" rx="1.5" ry="2" fill="#a3a5a7"/>
  <ellipse cx="887.8" cy="1148" rx="1" ry="1.5" fill="#6d6e71"/>
  <!-- door panel -->
  <path d="M923.2,1048.9 L1007,1000.5 L1007,1190.6 L923.2,1242 Z M955.1,1056 L955.1,1102 L975.2,1091.4 L975.2,1044.6 Z M955.1,1151.6 L955.1,1197.7 L975.2,1187 L975.2,1139.8 Z" fill="#86d1dd" fill-rule="evenodd"/>
  <path d="M923.2,1048.9 L1007,1000.5" stroke="#35a5b2" stroke-width="1" fill="none"/>
  <path d="M923.6,1049 V1241.8" stroke="#4bb6c3" stroke-width="0.9" fill="none"/>
  <!-- handle -->
  <path d="M1011.8,1087.8 Q1012.5,1080 1017.7,1076 Q1026,1070 1035.4,1069 Q1044,1068.3 1049.6,1071.3 Q1054.5,1074 1055.5,1078.4 L1059,1139.8 L1062.5,1172.9 L1062.5,1227.2 Q1062,1238 1056.6,1241.4 Q1044,1244.5 1030.7,1242.5 Q1021,1240.5 1016.5,1234.3 Q1012,1226 1011.8,1210.7 Z" fill="url(#eHandle)"/>
  <path d="M1012.5,1097 l-3.5,1 l0,9 l3.5,1 z" fill="#77797b"/>
  <path d="M1011.8,1087.8 Q1012.5,1080 1017.7,1076 Q1026,1070 1035.4,1069 Q1044,1068.3 1049.6,1071.3 Q1040,1072 1031,1075 Q1019,1080 1016.8,1092 L1015.5,1205 Q1015.8,1228 1020,1236 Q1013,1228 1011.8,1210.7 Z" fill="#b9bbbd" opacity="0.75"/>
  <path d="M1040,1118 Q1040.5,1105 1049,1104 Q1056.4,1103.8 1056.8,1112 L1059.2,1176 L1040.3,1184.7 Z" fill="#9c9ea0"/>
  <path d="M1040,1118 Q1040.5,1105 1049,1104 Q1056.4,1103.8 1056.8,1112" stroke="#6b6d6f" stroke-width="1" fill="none"/>
  <path d="M1036,1183.5 L1046.5,1181 Q1050,1187 1055.5,1178.5 L1062.5,1176.5 L1062.5,1229.5 L1036,1236 Z" fill="#7f8184"/>
  <path d="M1036,1183.5 L1046.5,1181 Q1050,1187 1055.5,1178.5 L1062.5,1176.5" stroke="#a9abad" stroke-width="0.9" fill="none"/>
  <rect x="1044" y="1206.5" width="16" height="20.5" rx="4.5" fill="#a3a5a7" transform="skewY(-8) translate(0,147)"/>
  <path d="M1037.5,1148 V1180" stroke="#c9cbcd" stroke-width="0.9"/>
</g>

<!-- padlock lug detail photos -->
<defs>
  <clipPath id="cEl1"><ellipse cx="238.5" cy="1861" rx="52" ry="88.5"/></clipPath>
  <clipPath id="cEl2"><ellipse cx="420.8" cy="1843.4" rx="100.4" ry="59"/></clipPath>
  <linearGradient id="gShk" x1="0" y1="0" x2="0" y2="1"><stop offset="0" stop-color="#cfd3d6"/><stop offset="0.5" stop-color="#aeb2b6"/><stop offset="1" stop-color="#8e9296"/></linearGradient>
  <linearGradient id="gPad" x1="0" y1="0" x2="1" y2="1"><stop offset="0" stop-color="#a7abaf"/><stop offset="1" stop-color="#bfc2c5"/></linearGradient>
  <linearGradient id="gRing" x1="0" y1="0" x2="0" y2="1"><stop offset="0" stop-color="#e5e2dc"/><stop offset="0.5" stop-color="#aaa69e"/><stop offset="1" stop-color="#d6d3cc"/></linearGradient>
</defs>
<g clip-path="url(#cEl1)">
  <rect x="180" y="1765" width="120" height="195" fill="#fff"/>
  <path d="M180,1765 H263.1 V1960 H180 Z" fill="#414143"/>
  <path d="M207.9,1775 H214.8 V1925 H207.9 Z" fill="#39393b"/>
  <path d="M213.6,1861 H215 V1922 H213.6 Z" fill="#242426"/>
  <rect x="238.5" y="1831.3" width="8.5" height="35.6" fill="#2b2b2d"/>
  <ellipse cx="254" cy="1846.2" rx="10.6" ry="15.4" fill="url(#gRing)"/>
  <ellipse cx="248.6" cy="1846.2" rx="8" ry="14.6" fill="#cfcbc4"/>
  <ellipse cx="248.6" cy="1846.2" rx="5.4" ry="10.4" fill="#4b4a48"/>
  <ellipse cx="247.6" cy="1846.6" rx="4.2" ry="9.2" fill="#3d3d3f"/>
  <path d="M205,1921 L232.1,1922.1 Q234,1931.3 243.6,1931.3 Q255,1931 256.2,1921 L258.5,1910.6 L268.9,1908.3 V1960 H205 Z" fill="#434345"/>
  <path d="M205,1921 L232.1,1922.1 Q234,1931.3 243.6,1931.3 Q255,1931 256.2,1921 L258.5,1910.6 L268.9,1908.3 V1910.5 L260,1912.6 L258,1922 Q256.5,1933.5 243.6,1933.7 Q232.5,1933.5 230.5,1924.4 L205,1923.5 Z" fill="#5e5e60"/>
</g>
<ellipse cx="238.5" cy="1861" rx="52.6" ry="89" fill="none" stroke="#d5d6d8" stroke-width="1.8"/>
<g clip-path="url(#cEl2)">
  <rect x="315" y="1780" width="215" height="130" fill="#fff"/>
  <path d="M315,1780 L382.7,1788 L402.2,1826.7 L418,1852 L464,1899 L466,1910 L315,1910 Z" fill="#3e3e40"/>
  <path d="M335.6,1811.7 L341,1808 L420.5,1891.5 L413.7,1895.7 Z" fill="#58585a"/>
  <path d="M341,1808 L344.5,1806 L426,1887.5 L420.5,1891.5 Z" fill="#252527"/>
  <path d="M398,1858 L425,1878 L458,1903 L430,1908 Z" fill="#2c2c2e"/>
  <!-- shackle -->
  <path d="M403,1850 Q380,1829 385.5,1813.5 Q392,1798 420,1800 Q445,1802 462,1812" fill="none" stroke="url(#gShk)" stroke-width="16" stroke-linecap="butt"/>
  <path d="M399,1846 Q381,1828 387,1812 Q391,1803 402,1801" fill="none" stroke="#dfe2e4" stroke-width="3.2" stroke-linecap="round"/>
  <path d="M412,1806.5 Q438,1806 458,1816" fill="none" stroke="#7f8387" stroke-width="2.4"/>
  <!-- lug ring -->
  <path d="M385.5,1801 Q390,1792.5 398.5,1794.5 Q407.5,1799 406.5,1817 Q405,1830 400.5,1832.5 L396.8,1829 Q401.5,1821 400.5,1809 Q398.5,1800 392,1803.5 Q389,1805 387.5,1808 Z" fill="#d6d3cc"/>
  <path d="M398.5,1794.5 Q407.5,1799 406.5,1817 Q405,1830 400.5,1832.5 Q404.5,1822 403.5,1809 Q402.5,1799 398.5,1794.5 Z" fill="#8a8780"/>
  <!-- padlock body -->
  <path d="M401.1,1850.8 L475.8,1814 L521.8,1835.9 L521,1852 L487.3,1872.7 L460.9,1873.8 Z" fill="url(#gPad)"/>
  <path d="M401.1,1850.8 L460.9,1873.8 L464.3,1894.5 L402.2,1861.2 Z" fill="#d3d6d8"/>
  <path d="M487.3,1872.7 L521,1852 L519.5,1868 L480.4,1895.7 Z" fill="#bfc2c5"/>
  <path d="M460.9,1873.8 L487.3,1872.7 L479.2,1893.4 L464.3,1894.5 Z" fill="#0c0c0c"/>
  <path d="M459,1845.5 Q462,1840 474,1838.5 Q494,1836 511,1842 Q499,1850.5 481,1852.5 Q465,1852.5 459,1845.5 Z" fill="#b6b9bc" stroke="#999ca0" stroke-width="0.8"/>
  <path d="M462,1846.5 Q468,1850 480,1849 Q496,1847 505,1842" fill="none" stroke="#8e9195" stroke-width="1.2"/>
  <circle cx="469.5" cy="1845" r="1.4" fill="#f1f2f3"/>
  <circle cx="499.5" cy="1835" r="1.4" fill="#f1f2f3"/>
</g>
<ellipse cx="420.8" cy="1843.4" rx="101" ry="59.6" fill="none" stroke="#d5d6d8" stroke-width="1.8"/>

</svg>
</body>
</html>
